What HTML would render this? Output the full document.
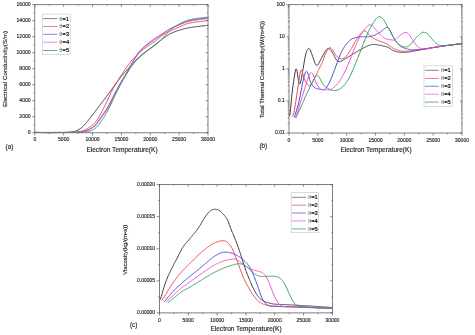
<!DOCTYPE html>
<html><head><meta charset="utf-8"><title>Figure</title>
<style>
html,body{margin:0;padding:0;background:#fff;}
body{width:475px;height:335px;overflow:hidden;}
svg{display:block;font-family:"Liberation Sans",sans-serif;}
</style></head><body>
<svg width="475" height="335" viewBox="0 0 475 335">
<defs><filter id="soft" x="0" y="0" width="475" height="335" filterUnits="userSpaceOnUse"><feGaussianBlur stdDeviation="0.38"/></filter></defs>
<rect x="0" y="0" width="475" height="335" fill="#ffffff"/>
<g filter="url(#soft)">
<rect x="34.8" y="4.7" width="173.2" height="128.10000000000002" fill="none" stroke="#555555" stroke-width="0.75"/>
<line x1="34.80" y1="132.80" x2="34.80" y2="135.40" stroke="#555555" stroke-width="0.7"/>
<line x1="34.80" y1="4.70" x2="34.80" y2="6.78" stroke="#555555" stroke-width="0.7"/>
<text x="34.80" y="141.40" font-size="5.05" text-anchor="middle" fill="#2a2a2a" stroke="#2a2a2a" stroke-width="0.16" >0</text>
<line x1="49.23" y1="132.80" x2="49.23" y2="134.10" stroke="#555555" stroke-width="0.7"/>
<line x1="49.23" y1="4.70" x2="49.23" y2="5.74" stroke="#555555" stroke-width="0.7"/>
<line x1="63.67" y1="132.80" x2="63.67" y2="135.40" stroke="#555555" stroke-width="0.7"/>
<line x1="63.67" y1="4.70" x2="63.67" y2="6.78" stroke="#555555" stroke-width="0.7"/>
<text x="63.67" y="141.40" font-size="5.05" text-anchor="middle" fill="#2a2a2a" stroke="#2a2a2a" stroke-width="0.16" >5000</text>
<line x1="78.10" y1="132.80" x2="78.10" y2="134.10" stroke="#555555" stroke-width="0.7"/>
<line x1="78.10" y1="4.70" x2="78.10" y2="5.74" stroke="#555555" stroke-width="0.7"/>
<line x1="92.53" y1="132.80" x2="92.53" y2="135.40" stroke="#555555" stroke-width="0.7"/>
<line x1="92.53" y1="4.70" x2="92.53" y2="6.78" stroke="#555555" stroke-width="0.7"/>
<text x="92.53" y="141.40" font-size="5.05" text-anchor="middle" fill="#2a2a2a" stroke="#2a2a2a" stroke-width="0.16" >10000</text>
<line x1="106.97" y1="132.80" x2="106.97" y2="134.10" stroke="#555555" stroke-width="0.7"/>
<line x1="106.97" y1="4.70" x2="106.97" y2="5.74" stroke="#555555" stroke-width="0.7"/>
<line x1="121.40" y1="132.80" x2="121.40" y2="135.40" stroke="#555555" stroke-width="0.7"/>
<line x1="121.40" y1="4.70" x2="121.40" y2="6.78" stroke="#555555" stroke-width="0.7"/>
<text x="121.40" y="141.40" font-size="5.05" text-anchor="middle" fill="#2a2a2a" stroke="#2a2a2a" stroke-width="0.16" >15000</text>
<line x1="135.83" y1="132.80" x2="135.83" y2="134.10" stroke="#555555" stroke-width="0.7"/>
<line x1="135.83" y1="4.70" x2="135.83" y2="5.74" stroke="#555555" stroke-width="0.7"/>
<line x1="150.27" y1="132.80" x2="150.27" y2="135.40" stroke="#555555" stroke-width="0.7"/>
<line x1="150.27" y1="4.70" x2="150.27" y2="6.78" stroke="#555555" stroke-width="0.7"/>
<text x="150.27" y="141.40" font-size="5.05" text-anchor="middle" fill="#2a2a2a" stroke="#2a2a2a" stroke-width="0.16" >20000</text>
<line x1="164.70" y1="132.80" x2="164.70" y2="134.10" stroke="#555555" stroke-width="0.7"/>
<line x1="164.70" y1="4.70" x2="164.70" y2="5.74" stroke="#555555" stroke-width="0.7"/>
<line x1="179.13" y1="132.80" x2="179.13" y2="135.40" stroke="#555555" stroke-width="0.7"/>
<line x1="179.13" y1="4.70" x2="179.13" y2="6.78" stroke="#555555" stroke-width="0.7"/>
<text x="179.13" y="141.40" font-size="5.05" text-anchor="middle" fill="#2a2a2a" stroke="#2a2a2a" stroke-width="0.16" >25000</text>
<line x1="193.57" y1="132.80" x2="193.57" y2="134.10" stroke="#555555" stroke-width="0.7"/>
<line x1="193.57" y1="4.70" x2="193.57" y2="5.74" stroke="#555555" stroke-width="0.7"/>
<line x1="208.00" y1="132.80" x2="208.00" y2="135.40" stroke="#555555" stroke-width="0.7"/>
<line x1="208.00" y1="4.70" x2="208.00" y2="6.78" stroke="#555555" stroke-width="0.7"/>
<text x="208.00" y="141.40" font-size="5.05" text-anchor="middle" fill="#2a2a2a" stroke="#2a2a2a" stroke-width="0.16" >30000</text>
<line x1="32.20" y1="132.80" x2="34.80" y2="132.80" stroke="#555555" stroke-width="0.7"/>
<line x1="205.92" y1="132.80" x2="208.00" y2="132.80" stroke="#555555" stroke-width="0.7"/>
<text x="30.60" y="134.20" font-size="5.05" text-anchor="end" fill="#2a2a2a" stroke="#2a2a2a" stroke-width="0.16" >0</text>
<line x1="33.50" y1="124.79" x2="34.80" y2="124.79" stroke="#555555" stroke-width="0.7"/>
<line x1="206.96" y1="124.79" x2="208.00" y2="124.79" stroke="#555555" stroke-width="0.7"/>
<line x1="32.20" y1="116.79" x2="34.80" y2="116.79" stroke="#555555" stroke-width="0.7"/>
<line x1="205.92" y1="116.79" x2="208.00" y2="116.79" stroke="#555555" stroke-width="0.7"/>
<text x="30.60" y="118.19" font-size="5.05" text-anchor="end" fill="#2a2a2a" stroke="#2a2a2a" stroke-width="0.16" >2000</text>
<line x1="33.50" y1="108.78" x2="34.80" y2="108.78" stroke="#555555" stroke-width="0.7"/>
<line x1="206.96" y1="108.78" x2="208.00" y2="108.78" stroke="#555555" stroke-width="0.7"/>
<line x1="32.20" y1="100.78" x2="34.80" y2="100.78" stroke="#555555" stroke-width="0.7"/>
<line x1="205.92" y1="100.78" x2="208.00" y2="100.78" stroke="#555555" stroke-width="0.7"/>
<text x="30.60" y="102.18" font-size="5.05" text-anchor="end" fill="#2a2a2a" stroke="#2a2a2a" stroke-width="0.16" >4000</text>
<line x1="33.50" y1="92.77" x2="34.80" y2="92.77" stroke="#555555" stroke-width="0.7"/>
<line x1="206.96" y1="92.77" x2="208.00" y2="92.77" stroke="#555555" stroke-width="0.7"/>
<line x1="32.20" y1="84.76" x2="34.80" y2="84.76" stroke="#555555" stroke-width="0.7"/>
<line x1="205.92" y1="84.76" x2="208.00" y2="84.76" stroke="#555555" stroke-width="0.7"/>
<text x="30.60" y="86.16" font-size="5.05" text-anchor="end" fill="#2a2a2a" stroke="#2a2a2a" stroke-width="0.16" >6000</text>
<line x1="33.50" y1="76.76" x2="34.80" y2="76.76" stroke="#555555" stroke-width="0.7"/>
<line x1="206.96" y1="76.76" x2="208.00" y2="76.76" stroke="#555555" stroke-width="0.7"/>
<line x1="32.20" y1="68.75" x2="34.80" y2="68.75" stroke="#555555" stroke-width="0.7"/>
<line x1="205.92" y1="68.75" x2="208.00" y2="68.75" stroke="#555555" stroke-width="0.7"/>
<text x="30.60" y="70.15" font-size="5.05" text-anchor="end" fill="#2a2a2a" stroke="#2a2a2a" stroke-width="0.16" >8000</text>
<line x1="33.50" y1="60.74" x2="34.80" y2="60.74" stroke="#555555" stroke-width="0.7"/>
<line x1="206.96" y1="60.74" x2="208.00" y2="60.74" stroke="#555555" stroke-width="0.7"/>
<line x1="32.20" y1="52.74" x2="34.80" y2="52.74" stroke="#555555" stroke-width="0.7"/>
<line x1="205.92" y1="52.74" x2="208.00" y2="52.74" stroke="#555555" stroke-width="0.7"/>
<text x="30.60" y="54.14" font-size="5.05" text-anchor="end" fill="#2a2a2a" stroke="#2a2a2a" stroke-width="0.16" >10000</text>
<line x1="33.50" y1="44.73" x2="34.80" y2="44.73" stroke="#555555" stroke-width="0.7"/>
<line x1="206.96" y1="44.73" x2="208.00" y2="44.73" stroke="#555555" stroke-width="0.7"/>
<line x1="32.20" y1="36.72" x2="34.80" y2="36.72" stroke="#555555" stroke-width="0.7"/>
<line x1="205.92" y1="36.72" x2="208.00" y2="36.72" stroke="#555555" stroke-width="0.7"/>
<text x="30.60" y="38.12" font-size="5.05" text-anchor="end" fill="#2a2a2a" stroke="#2a2a2a" stroke-width="0.16" >12000</text>
<line x1="33.50" y1="28.72" x2="34.80" y2="28.72" stroke="#555555" stroke-width="0.7"/>
<line x1="206.96" y1="28.72" x2="208.00" y2="28.72" stroke="#555555" stroke-width="0.7"/>
<line x1="32.20" y1="20.71" x2="34.80" y2="20.71" stroke="#555555" stroke-width="0.7"/>
<line x1="205.92" y1="20.71" x2="208.00" y2="20.71" stroke="#555555" stroke-width="0.7"/>
<text x="30.60" y="22.11" font-size="5.05" text-anchor="end" fill="#2a2a2a" stroke="#2a2a2a" stroke-width="0.16" >14000</text>
<line x1="33.50" y1="12.71" x2="34.80" y2="12.71" stroke="#555555" stroke-width="0.7"/>
<line x1="206.96" y1="12.71" x2="208.00" y2="12.71" stroke="#555555" stroke-width="0.7"/>
<line x1="32.20" y1="4.70" x2="34.80" y2="4.70" stroke="#555555" stroke-width="0.7"/>
<line x1="205.92" y1="4.70" x2="208.00" y2="4.70" stroke="#555555" stroke-width="0.7"/>
<text x="30.60" y="6.10" font-size="5.05" text-anchor="end" fill="#2a2a2a" stroke="#2a2a2a" stroke-width="0.16" >16000</text>
<text x="0.00" y="0.00" font-size="6.23" text-anchor="middle" fill="#2a2a2a" stroke="#2a2a2a" stroke-width="0.16" transform="translate(6.6,69.0) rotate(-90)">Electrical Conductivity(S/m)</text>
<text x="122.00" y="151.80" font-size="6.55" text-anchor="middle" fill="#2a2a2a" stroke="#2a2a2a" stroke-width="0.16" >Electron Temperature(K)</text>
<text x="5.60" y="148.90" font-size="6.4" text-anchor="start" fill="#2a2a2a" stroke="#2a2a2a" stroke-width="0.16" >(a)</text>
<path d="M35.00 132.41 L35.50 132.41 L36.00 132.41 L36.50 132.41 L37.00 132.42 L37.50 132.42 L38.00 132.42 L38.50 132.43 L39.00 132.43 L39.50 132.43 L40.00 132.43 L40.50 132.43 L41.00 132.44 L41.50 132.44 L42.00 132.44 L42.50 132.44 L43.00 132.44 L43.50 132.44 L44.00 132.44 L44.50 132.44 L45.00 132.44 L45.50 132.44 L46.00 132.44 L46.50 132.44 L47.00 132.44 L47.50 132.44 L48.00 132.44 L48.50 132.44 L49.00 132.44 L49.50 132.43 L50.00 132.43 L50.50 132.43 L51.00 132.43 L51.50 132.43 L52.00 132.43 L52.50 132.43 L53.00 132.42 L53.50 132.42 L54.00 132.42 L54.50 132.42 L55.00 132.42 L55.50 132.42 L56.00 132.41 L56.50 132.41 L57.00 132.41 L57.50 132.41 L58.00 132.41 L58.50 132.40 L59.00 132.40 L59.50 132.40 L60.00 132.40 L60.50 132.39 L61.00 132.39 L61.50 132.38 L62.00 132.38 L62.50 132.37 L63.00 132.36 L63.50 132.36 L64.00 132.35 L64.50 132.34 L65.00 132.33 L65.50 132.31 L66.00 132.30 L66.50 132.29 L67.00 132.28 L67.50 132.26 L68.00 132.24 L68.50 132.22 L69.00 132.20 L69.50 132.17 L70.00 132.14 L70.50 132.10 L71.00 132.05 L71.50 132.00 L72.00 131.93 L72.50 131.86 L73.00 131.77 L73.50 131.67 L74.00 131.55 L74.50 131.42 L75.00 131.27 L75.50 131.11 L76.00 130.93 L76.50 130.73 L77.00 130.52 L77.50 130.28 L78.00 130.03 L78.50 129.75 L79.00 129.46 L79.50 129.15 L80.00 128.82 L80.50 128.46 L81.00 128.09 L81.50 127.68 L82.00 127.26 L82.50 126.81 L83.00 126.34 L83.50 125.84 L84.00 125.32 L84.50 124.79 L85.00 124.23 L85.50 123.66 L86.00 123.08 L86.50 122.49 L87.00 121.88 L87.50 121.27 L88.00 120.66 L88.50 120.03 L89.00 119.40 L89.50 118.77 L90.00 118.13 L90.50 117.49 L91.00 116.85 L91.50 116.20 L92.00 115.55 L92.50 114.91 L93.00 114.25 L93.50 113.60 L94.00 112.95 L94.50 112.30 L95.00 111.64 L95.50 110.98 L96.00 110.33 L96.50 109.67 L97.00 109.01 L97.50 108.35 L98.00 107.69 L98.50 107.03 L99.00 106.37 L99.50 105.70 L100.00 105.04 L100.50 104.38 L101.00 103.71 L101.50 103.05 L102.00 102.39 L102.50 101.72 L103.00 101.06 L103.50 100.39 L104.00 99.73 L104.50 99.06 L105.00 98.40 L105.50 97.73 L106.00 97.06 L106.50 96.39 L107.00 95.72 L107.50 95.05 L108.00 94.38 L108.50 93.71 L109.00 93.03 L109.50 92.36 L110.00 91.68 L110.50 90.99 L111.00 90.31 L111.50 89.62 L112.00 88.94 L112.50 88.25 L113.00 87.56 L113.50 86.87 L114.00 86.18 L114.50 85.49 L115.00 84.81 L115.50 84.12 L116.00 83.43 L116.50 82.75 L117.00 82.07 L117.50 81.39 L118.00 80.72 L118.50 80.05 L119.00 79.38 L119.50 78.73 L120.00 78.07 L120.50 77.43 L121.00 76.80 L121.50 76.17 L122.00 75.56 L122.50 74.95 L123.00 74.35 L123.50 73.77 L124.00 73.19 L124.50 72.62 L125.00 72.05 L125.50 71.50 L126.00 70.94 L126.50 70.40 L127.00 69.85 L127.50 69.31 L128.00 68.77 L128.50 68.24 L129.00 67.70 L129.50 67.16 L130.00 66.62 L130.50 66.08 L131.00 65.54 L131.50 65.00 L132.00 64.45 L132.50 63.90 L133.00 63.34 L133.50 62.79 L134.00 62.23 L134.50 61.68 L135.00 61.13 L135.50 60.59 L136.00 60.05 L136.50 59.53 L137.00 59.01 L137.50 58.51 L138.00 58.02 L138.50 57.55 L139.00 57.08 L139.50 56.63 L140.00 56.19 L140.50 55.76 L141.00 55.34 L141.50 54.93 L142.00 54.53 L142.50 54.13 L143.00 53.74 L143.50 53.35 L144.00 52.97 L144.50 52.59 L145.00 52.21 L145.50 51.84 L146.00 51.46 L146.50 51.09 L147.00 50.72 L147.50 50.35 L148.00 49.99 L148.50 49.62 L149.00 49.26 L149.50 48.89 L150.00 48.53 L150.50 48.16 L151.00 47.80 L151.50 47.43 L152.00 47.06 L152.50 46.70 L153.00 46.33 L153.50 45.95 L154.00 45.58 L154.50 45.20 L155.00 44.82 L155.50 44.44 L156.00 44.06 L156.50 43.67 L157.00 43.28 L157.50 42.89 L158.00 42.50 L158.50 42.10 L159.00 41.71 L159.50 41.31 L160.00 40.91 L160.50 40.52 L161.00 40.13 L161.50 39.73 L162.00 39.34 L162.50 38.95 L163.00 38.57 L163.50 38.19 L164.00 37.81 L164.50 37.44 L165.00 37.08 L165.50 36.72 L166.00 36.37 L166.50 36.03 L167.00 35.69 L167.50 35.37 L168.00 35.05 L168.50 34.74 L169.00 34.45 L169.50 34.16 L170.00 33.89 L170.50 33.62 L171.00 33.37 L171.50 33.12 L172.00 32.89 L172.50 32.66 L173.00 32.45 L173.50 32.24 L174.00 32.04 L174.50 31.84 L175.00 31.65 L175.50 31.47 L176.00 31.29 L176.50 31.12 L177.00 30.95 L177.50 30.79 L178.00 30.63 L178.50 30.47 L179.00 30.32 L179.50 30.17 L180.00 30.02 L180.50 29.87 L181.00 29.73 L181.50 29.58 L182.00 29.45 L182.50 29.31 L183.00 29.18 L183.50 29.05 L184.00 28.92 L184.50 28.80 L185.00 28.67 L185.50 28.55 L186.00 28.44 L186.50 28.32 L187.00 28.21 L187.50 28.10 L188.00 28.00 L188.50 27.89 L189.00 27.80 L189.50 27.70 L190.00 27.61 L190.50 27.53 L191.00 27.44 L191.50 27.36 L192.00 27.29 L192.50 27.21 L193.00 27.14 L193.50 27.07 L194.00 27.00 L194.50 26.93 L195.00 26.86 L195.50 26.79 L196.00 26.72 L196.50 26.66 L197.00 26.59 L197.50 26.53 L198.00 26.46 L198.50 26.39 L199.00 26.33 L199.50 26.27 L200.00 26.20 L200.50 26.14 L201.00 26.07 L201.50 26.01 L202.00 25.95 L202.50 25.88 L203.00 25.82 L203.50 25.76 L204.00 25.70 L204.50 25.64 L205.00 25.58 L205.50 25.52 L206.00 25.47 L206.50 25.42 L207.00 25.37 L207.50 25.33 L208.00 25.30" fill="none" stroke="#3a3a3a" stroke-width="1.0" stroke-linejoin="round" stroke-linecap="round"/>
<path d="M35.00 132.42 L35.50 132.43 L36.00 132.44 L36.50 132.45 L37.00 132.46 L37.50 132.47 L38.00 132.48 L38.50 132.49 L39.00 132.50 L39.50 132.51 L40.00 132.52 L40.50 132.53 L41.00 132.54 L41.50 132.55 L42.00 132.56 L42.50 132.56 L43.00 132.57 L43.50 132.58 L44.00 132.58 L44.50 132.59 L45.00 132.59 L45.50 132.59 L46.00 132.60 L46.50 132.60 L47.00 132.60 L47.50 132.60 L48.00 132.61 L48.50 132.61 L49.00 132.61 L49.50 132.61 L50.00 132.61 L50.50 132.61 L51.00 132.60 L51.50 132.60 L52.00 132.60 L52.50 132.60 L53.00 132.60 L53.50 132.59 L54.00 132.59 L54.50 132.59 L55.00 132.58 L55.50 132.58 L56.00 132.57 L56.50 132.57 L57.00 132.57 L57.50 132.56 L58.00 132.56 L58.50 132.55 L59.00 132.54 L59.50 132.54 L60.00 132.53 L60.50 132.53 L61.00 132.52 L61.50 132.51 L62.00 132.51 L62.50 132.50 L63.00 132.49 L63.50 132.49 L64.00 132.48 L64.50 132.47 L65.00 132.47 L65.50 132.46 L66.00 132.45 L66.50 132.45 L67.00 132.44 L67.50 132.43 L68.00 132.43 L68.50 132.42 L69.00 132.41 L69.50 132.40 L70.00 132.39 L70.50 132.38 L71.00 132.36 L71.50 132.35 L72.00 132.33 L72.50 132.31 L73.00 132.28 L73.50 132.26 L74.00 132.23 L74.50 132.20 L75.00 132.16 L75.50 132.12 L76.00 132.08 L76.50 132.04 L77.00 131.99 L77.50 131.93 L78.00 131.87 L78.50 131.81 L79.00 131.73 L79.50 131.65 L80.00 131.55 L80.50 131.45 L81.00 131.32 L81.50 131.19 L82.00 131.04 L82.50 130.88 L83.00 130.71 L83.50 130.52 L84.00 130.32 L84.50 130.11 L85.00 129.88 L85.50 129.64 L86.00 129.39 L86.50 129.13 L87.00 128.85 L87.50 128.56 L88.00 128.26 L88.50 127.95 L89.00 127.63 L89.50 127.29 L90.00 126.95 L90.50 126.59 L91.00 126.22 L91.50 125.84 L92.00 125.45 L92.50 125.04 L93.00 124.60 L93.50 124.15 L94.00 123.67 L94.50 123.16 L95.00 122.61 L95.50 122.04 L96.00 121.42 L96.50 120.77 L97.00 120.08 L97.50 119.36 L98.00 118.59 L98.50 117.79 L99.00 116.96 L99.50 116.09 L100.00 115.20 L100.50 114.28 L101.00 113.34 L101.50 112.39 L102.00 111.41 L102.50 110.42 L103.00 109.43 L103.50 108.42 L104.00 107.41 L104.50 106.39 L105.00 105.36 L105.50 104.33 L106.00 103.29 L106.50 102.25 L107.00 101.20 L107.50 100.15 L108.00 99.09 L108.50 98.03 L109.00 96.96 L109.50 95.89 L110.00 94.83 L110.50 93.78 L111.00 92.74 L111.50 91.72 L112.00 90.72 L112.50 89.73 L113.00 88.78 L113.50 87.84 L114.00 86.93 L114.50 86.04 L115.00 85.17 L115.50 84.32 L116.00 83.49 L116.50 82.67 L117.00 81.86 L117.50 81.06 L118.00 80.27 L118.50 79.48 L119.00 78.70 L119.50 77.92 L120.00 77.14 L120.50 76.37 L121.00 75.60 L121.50 74.83 L122.00 74.06 L122.50 73.30 L123.00 72.54 L123.50 71.79 L124.00 71.04 L124.50 70.29 L125.00 69.55 L125.50 68.82 L126.00 68.09 L126.50 67.38 L127.00 66.67 L127.50 65.97 L128.00 65.28 L128.50 64.60 L129.00 63.94 L129.50 63.28 L130.00 62.64 L130.50 62.00 L131.00 61.38 L131.50 60.78 L132.00 60.18 L132.50 59.59 L133.00 59.02 L133.50 58.46 L134.00 57.91 L134.50 57.37 L135.00 56.84 L135.50 56.32 L136.00 55.81 L136.50 55.31 L137.00 54.82 L137.50 54.34 L138.00 53.87 L138.50 53.41 L139.00 52.95 L139.50 52.51 L140.00 52.07 L140.50 51.65 L141.00 51.23 L141.50 50.82 L142.00 50.41 L142.50 50.02 L143.00 49.63 L143.50 49.25 L144.00 48.87 L144.50 48.50 L145.00 48.14 L145.50 47.78 L146.00 47.42 L146.50 47.07 L147.00 46.72 L147.50 46.37 L148.00 46.02 L148.50 45.68 L149.00 45.33 L149.50 44.99 L150.00 44.65 L150.50 44.31 L151.00 43.96 L151.50 43.62 L152.00 43.27 L152.50 42.93 L153.00 42.58 L153.50 42.22 L154.00 41.87 L154.50 41.51 L155.00 41.15 L155.50 40.78 L156.00 40.41 L156.50 40.03 L157.00 39.65 L157.50 39.27 L158.00 38.88 L158.50 38.49 L159.00 38.10 L159.50 37.71 L160.00 37.32 L160.50 36.93 L161.00 36.55 L161.50 36.17 L162.00 35.80 L162.50 35.43 L163.00 35.07 L163.50 34.72 L164.00 34.38 L164.50 34.05 L165.00 33.73 L165.50 33.42 L166.00 33.12 L166.50 32.83 L167.00 32.55 L167.50 32.28 L168.00 32.02 L168.50 31.76 L169.00 31.51 L169.50 31.27 L170.00 31.04 L170.50 30.81 L171.00 30.58 L171.50 30.36 L172.00 30.14 L172.50 29.92 L173.00 29.70 L173.50 29.49 L174.00 29.27 L174.50 29.05 L175.00 28.84 L175.50 28.62 L176.00 28.40 L176.50 28.18 L177.00 27.96 L177.50 27.74 L178.00 27.52 L178.50 27.29 L179.00 27.07 L179.50 26.84 L180.00 26.61 L180.50 26.39 L181.00 26.16 L181.50 25.93 L182.00 25.71 L182.50 25.49 L183.00 25.28 L183.50 25.07 L184.00 24.86 L184.50 24.66 L185.00 24.47 L185.50 24.29 L186.00 24.12 L186.50 23.95 L187.00 23.80 L187.50 23.65 L188.00 23.52 L188.50 23.39 L189.00 23.27 L189.50 23.15 L190.00 23.05 L190.50 22.95 L191.00 22.85 L191.50 22.76 L192.00 22.67 L192.50 22.58 L193.00 22.50 L193.50 22.42 L194.00 22.34 L194.50 22.26 L195.00 22.19 L195.50 22.11 L196.00 22.04 L196.50 21.97 L197.00 21.90 L197.50 21.83 L198.00 21.76 L198.50 21.70 L199.00 21.63 L199.50 21.57 L200.00 21.51 L200.50 21.45 L201.00 21.38 L201.50 21.32 L202.00 21.26 L202.50 21.21 L203.00 21.15 L203.50 21.09 L204.00 21.03 L204.50 20.98 L205.00 20.93 L205.50 20.88 L206.00 20.83 L206.50 20.78 L207.00 20.75 L207.50 20.71 L208.00 20.68" fill="none" stroke="#e8484c" stroke-width="1.0" stroke-linejoin="round" stroke-linecap="round"/>
<path d="M35.00 132.42 L35.50 132.43 L36.00 132.43 L36.50 132.44 L37.00 132.45 L37.50 132.46 L38.00 132.47 L38.50 132.48 L39.00 132.49 L39.50 132.50 L40.00 132.51 L40.50 132.51 L41.00 132.52 L41.50 132.53 L42.00 132.54 L42.50 132.54 L43.00 132.55 L43.50 132.55 L44.00 132.56 L44.50 132.56 L45.00 132.57 L45.50 132.57 L46.00 132.57 L46.50 132.58 L47.00 132.58 L47.50 132.58 L48.00 132.58 L48.50 132.58 L49.00 132.58 L49.50 132.59 L50.00 132.59 L50.50 132.59 L51.00 132.59 L51.50 132.58 L52.00 132.58 L52.50 132.58 L53.00 132.58 L53.50 132.58 L54.00 132.58 L54.50 132.57 L55.00 132.57 L55.50 132.57 L56.00 132.57 L56.50 132.56 L57.00 132.56 L57.50 132.56 L58.00 132.55 L58.50 132.55 L59.00 132.54 L59.50 132.54 L60.00 132.53 L60.50 132.53 L61.00 132.52 L61.50 132.52 L62.00 132.51 L62.50 132.51 L63.00 132.50 L63.50 132.50 L64.00 132.49 L64.50 132.49 L65.00 132.48 L65.50 132.48 L66.00 132.47 L66.50 132.46 L67.00 132.46 L67.50 132.45 L68.00 132.45 L68.50 132.44 L69.00 132.43 L69.50 132.43 L70.00 132.42 L70.50 132.41 L71.00 132.41 L71.50 132.40 L72.00 132.39 L72.50 132.38 L73.00 132.37 L73.50 132.35 L74.00 132.34 L74.50 132.32 L75.00 132.30 L75.50 132.27 L76.00 132.25 L76.50 132.22 L77.00 132.19 L77.50 132.16 L78.00 132.13 L78.50 132.09 L79.00 132.05 L79.50 132.00 L80.00 131.95 L80.50 131.90 L81.00 131.83 L81.50 131.76 L82.00 131.68 L82.50 131.59 L83.00 131.49 L83.50 131.38 L84.00 131.26 L84.50 131.13 L85.00 130.98 L85.50 130.83 L86.00 130.66 L86.50 130.49 L87.00 130.30 L87.50 130.10 L88.00 129.89 L88.50 129.66 L89.00 129.43 L89.50 129.17 L90.00 128.91 L90.50 128.63 L91.00 128.33 L91.50 128.02 L92.00 127.68 L92.50 127.33 L93.00 126.96 L93.50 126.55 L94.00 126.12 L94.50 125.65 L95.00 125.15 L95.50 124.62 L96.00 124.05 L96.50 123.45 L97.00 122.82 L97.50 122.17 L98.00 121.50 L98.50 120.81 L99.00 120.11 L99.50 119.40 L100.00 118.68 L100.50 117.96 L101.00 117.23 L101.50 116.51 L102.00 115.78 L102.50 115.05 L103.00 114.32 L103.50 113.59 L104.00 112.85 L104.50 112.11 L105.00 111.36 L105.50 110.60 L106.00 109.84 L106.50 109.06 L107.00 108.26 L107.50 107.45 L108.00 106.61 L108.50 105.75 L109.00 104.86 L109.50 103.95 L110.00 103.01 L110.50 102.06 L111.00 101.08 L111.50 100.09 L112.00 99.09 L112.50 98.09 L113.00 97.09 L113.50 96.09 L114.00 95.10 L114.50 94.12 L115.00 93.15 L115.50 92.19 L116.00 91.25 L116.50 90.31 L117.00 89.37 L117.50 88.45 L118.00 87.54 L118.50 86.63 L119.00 85.73 L119.50 84.83 L120.00 83.95 L120.50 83.07 L121.00 82.21 L121.50 81.35 L122.00 80.49 L122.50 79.65 L123.00 78.81 L123.50 77.97 L124.00 77.13 L124.50 76.30 L125.00 75.46 L125.50 74.62 L126.00 73.78 L126.50 72.93 L127.00 72.07 L127.50 71.20 L128.00 70.33 L128.50 69.46 L129.00 68.58 L129.50 67.69 L130.00 66.81 L130.50 65.93 L131.00 65.05 L131.50 64.18 L132.00 63.31 L132.50 62.45 L133.00 61.61 L133.50 60.78 L134.00 59.96 L134.50 59.15 L135.00 58.36 L135.50 57.59 L136.00 56.84 L136.50 56.10 L137.00 55.38 L137.50 54.68 L138.00 53.99 L138.50 53.33 L139.00 52.69 L139.50 52.07 L140.00 51.47 L140.50 50.89 L141.00 50.34 L141.50 49.80 L142.00 49.29 L142.50 48.80 L143.00 48.32 L143.50 47.87 L144.00 47.43 L144.50 47.00 L145.00 46.58 L145.50 46.18 L146.00 45.78 L146.50 45.39 L147.00 45.00 L147.50 44.62 L148.00 44.24 L148.50 43.86 L149.00 43.48 L149.50 43.11 L150.00 42.74 L150.50 42.37 L151.00 42.01 L151.50 41.65 L152.00 41.28 L152.50 40.93 L153.00 40.57 L153.50 40.22 L154.00 39.86 L154.50 39.51 L155.00 39.16 L155.50 38.82 L156.00 38.47 L156.50 38.13 L157.00 37.78 L157.50 37.44 L158.00 37.09 L158.50 36.75 L159.00 36.41 L159.50 36.07 L160.00 35.72 L160.50 35.38 L161.00 35.04 L161.50 34.70 L162.00 34.36 L162.50 34.02 L163.00 33.67 L163.50 33.33 L164.00 32.99 L164.50 32.64 L165.00 32.30 L165.50 31.96 L166.00 31.62 L166.50 31.28 L167.00 30.95 L167.50 30.62 L168.00 30.30 L168.50 29.98 L169.00 29.67 L169.50 29.37 L170.00 29.08 L170.50 28.80 L171.00 28.53 L171.50 28.26 L172.00 28.00 L172.50 27.75 L173.00 27.51 L173.50 27.27 L174.00 27.04 L174.50 26.81 L175.00 26.58 L175.50 26.35 L176.00 26.12 L176.50 25.90 L177.00 25.67 L177.50 25.44 L178.00 25.22 L178.50 24.99 L179.00 24.76 L179.50 24.53 L180.00 24.31 L180.50 24.08 L181.00 23.85 L181.50 23.63 L182.00 23.41 L182.50 23.18 L183.00 22.97 L183.50 22.75 L184.00 22.54 L184.50 22.34 L185.00 22.14 L185.50 21.95 L186.00 21.77 L186.50 21.59 L187.00 21.43 L187.50 21.27 L188.00 21.11 L188.50 20.97 L189.00 20.83 L189.50 20.71 L190.00 20.59 L190.50 20.47 L191.00 20.36 L191.50 20.26 L192.00 20.16 L192.50 20.06 L193.00 19.97 L193.50 19.88 L194.00 19.79 L194.50 19.71 L195.00 19.63 L195.50 19.55 L196.00 19.47 L196.50 19.39 L197.00 19.32 L197.50 19.25 L198.00 19.17 L198.50 19.11 L199.00 19.04 L199.50 18.97 L200.00 18.91 L200.50 18.84 L201.00 18.78 L201.50 18.72 L202.00 18.66 L202.50 18.60 L203.00 18.54 L203.50 18.48 L204.00 18.43 L204.50 18.37 L205.00 18.32 L205.50 18.27 L206.00 18.22 L206.50 18.18 L207.00 18.14 L207.50 18.11 L208.00 18.08" fill="none" stroke="#4646d8" stroke-width="1.0" stroke-linejoin="round" stroke-linecap="round"/>
<path d="M35.00 132.42 L35.50 132.43 L36.00 132.43 L36.50 132.44 L37.00 132.45 L37.50 132.46 L38.00 132.47 L38.50 132.48 L39.00 132.49 L39.50 132.50 L40.00 132.51 L40.50 132.52 L41.00 132.52 L41.50 132.53 L42.00 132.54 L42.50 132.54 L43.00 132.55 L43.50 132.56 L44.00 132.56 L44.50 132.57 L45.00 132.57 L45.50 132.57 L46.00 132.58 L46.50 132.58 L47.00 132.58 L47.50 132.59 L48.00 132.59 L48.50 132.59 L49.00 132.59 L49.50 132.59 L50.00 132.59 L50.50 132.59 L51.00 132.59 L51.50 132.59 L52.00 132.59 L52.50 132.59 L53.00 132.59 L53.50 132.59 L54.00 132.59 L54.50 132.58 L55.00 132.58 L55.50 132.58 L56.00 132.58 L56.50 132.57 L57.00 132.57 L57.50 132.57 L58.00 132.56 L58.50 132.56 L59.00 132.55 L59.50 132.55 L60.00 132.55 L60.50 132.54 L61.00 132.54 L61.50 132.53 L62.00 132.53 L62.50 132.52 L63.00 132.52 L63.50 132.51 L64.00 132.51 L64.50 132.50 L65.00 132.50 L65.50 132.49 L66.00 132.48 L66.50 132.48 L67.00 132.47 L67.50 132.47 L68.00 132.46 L68.50 132.45 L69.00 132.45 L69.50 132.44 L70.00 132.44 L70.50 132.43 L71.00 132.42 L71.50 132.42 L72.00 132.41 L72.50 132.40 L73.00 132.39 L73.50 132.38 L74.00 132.37 L74.50 132.35 L75.00 132.33 L75.50 132.32 L76.00 132.29 L76.50 132.27 L77.00 132.25 L77.50 132.22 L78.00 132.19 L78.50 132.16 L79.00 132.12 L79.50 132.09 L80.00 132.04 L80.50 132.00 L81.00 131.95 L81.50 131.90 L82.00 131.83 L82.50 131.77 L83.00 131.69 L83.50 131.60 L84.00 131.50 L84.50 131.39 L85.00 131.27 L85.50 131.14 L86.00 130.99 L86.50 130.83 L87.00 130.67 L87.50 130.48 L88.00 130.29 L88.50 130.08 L89.00 129.86 L89.50 129.62 L90.00 129.37 L90.50 129.11 L91.00 128.83 L91.50 128.53 L92.00 128.23 L92.50 127.90 L93.00 127.55 L93.50 127.17 L94.00 126.77 L94.50 126.34 L95.00 125.87 L95.50 125.36 L96.00 124.82 L96.50 124.24 L97.00 123.64 L97.50 123.01 L98.00 122.35 L98.50 121.69 L99.00 121.00 L99.50 120.31 L100.00 119.62 L100.50 118.92 L101.00 118.22 L101.50 117.51 L102.00 116.81 L102.50 116.10 L103.00 115.40 L103.50 114.70 L104.00 113.99 L104.50 113.28 L105.00 112.56 L105.50 111.84 L106.00 111.11 L106.50 110.37 L107.00 109.61 L107.50 108.84 L108.00 108.04 L108.50 107.22 L109.00 106.37 L109.50 105.50 L110.00 104.59 L110.50 103.66 L111.00 102.70 L111.50 101.72 L112.00 100.73 L112.50 99.72 L113.00 98.72 L113.50 97.71 L114.00 96.72 L114.50 95.73 L115.00 94.75 L115.50 93.79 L116.00 92.84 L116.50 91.89 L117.00 90.96 L117.50 90.03 L118.00 89.11 L118.50 88.20 L119.00 87.29 L119.50 86.38 L120.00 85.48 L120.50 84.59 L121.00 83.70 L121.50 82.83 L122.00 81.96 L122.50 81.09 L123.00 80.23 L123.50 79.38 L124.00 78.53 L124.50 77.67 L125.00 76.81 L125.50 75.94 L126.00 75.05 L126.50 74.15 L127.00 73.22 L127.50 72.27 L128.00 71.29 L128.50 70.28 L129.00 69.26 L129.50 68.21 L130.00 67.16 L130.50 66.11 L131.00 65.07 L131.50 64.03 L132.00 63.02 L132.50 62.04 L133.00 61.09 L133.50 60.16 L134.00 59.27 L134.50 58.41 L135.00 57.58 L135.50 56.78 L136.00 56.00 L136.50 55.25 L137.00 54.52 L137.50 53.82 L138.00 53.13 L138.50 52.47 L139.00 51.83 L139.50 51.22 L140.00 50.62 L140.50 50.05 L141.00 49.50 L141.50 48.97 L142.00 48.47 L142.50 47.98 L143.00 47.51 L143.50 47.05 L144.00 46.61 L144.50 46.18 L145.00 45.77 L145.50 45.36 L146.00 44.95 L146.50 44.55 L147.00 44.16 L147.50 43.77 L148.00 43.38 L148.50 43.00 L149.00 42.62 L149.50 42.24 L150.00 41.86 L150.50 41.49 L151.00 41.13 L151.50 40.77 L152.00 40.41 L152.50 40.05 L153.00 39.70 L153.50 39.36 L154.00 39.02 L154.50 38.68 L155.00 38.35 L155.50 38.02 L156.00 37.69 L156.50 37.37 L157.00 37.05 L157.50 36.73 L158.00 36.41 L158.50 36.09 L159.00 35.78 L159.50 35.46 L160.00 35.14 L160.50 34.83 L161.00 34.51 L161.50 34.19 L162.00 33.88 L162.50 33.56 L163.00 33.24 L163.50 32.92 L164.00 32.61 L164.50 32.29 L165.00 31.97 L165.50 31.65 L166.00 31.33 L166.50 31.02 L167.00 30.70 L167.50 30.39 L168.00 30.08 L168.50 29.77 L169.00 29.47 L169.50 29.17 L170.00 28.88 L170.50 28.61 L171.00 28.34 L171.50 28.08 L172.00 27.83 L172.50 27.60 L173.00 27.37 L173.50 27.15 L174.00 26.94 L174.50 26.74 L175.00 26.53 L175.50 26.34 L176.00 26.14 L176.50 25.94 L177.00 25.74 L177.50 25.54 L178.00 25.34 L178.50 25.13 L179.00 24.93 L179.50 24.72 L180.00 24.52 L180.50 24.32 L181.00 24.11 L181.50 23.91 L182.00 23.71 L182.50 23.51 L183.00 23.32 L183.50 23.13 L184.00 22.94 L184.50 22.76 L185.00 22.58 L185.50 22.41 L186.00 22.25 L186.50 22.09 L187.00 21.94 L187.50 21.79 L188.00 21.65 L188.50 21.52 L189.00 21.40 L189.50 21.28 L190.00 21.16 L190.50 21.06 L191.00 20.95 L191.50 20.85 L192.00 20.75 L192.50 20.66 L193.00 20.57 L193.50 20.48 L194.00 20.40 L194.50 20.31 L195.00 20.23 L195.50 20.15 L196.00 20.07 L196.50 20.00 L197.00 19.92 L197.50 19.85 L198.00 19.78 L198.50 19.71 L199.00 19.64 L199.50 19.57 L200.00 19.51 L200.50 19.44 L201.00 19.38 L201.50 19.32 L202.00 19.26 L202.50 19.20 L203.00 19.14 L203.50 19.08 L204.00 19.03 L204.50 18.97 L205.00 18.92 L205.50 18.87 L206.00 18.82 L206.50 18.78 L207.00 18.74 L207.50 18.71 L208.00 18.68" fill="none" stroke="#f646d6" stroke-width="1.0" stroke-linejoin="round" stroke-linecap="round"/>
<path d="M35.00 132.41 L35.50 132.42 L36.00 132.42 L36.50 132.43 L37.00 132.44 L37.50 132.44 L38.00 132.45 L38.50 132.46 L39.00 132.46 L39.50 132.47 L40.00 132.48 L40.50 132.48 L41.00 132.49 L41.50 132.50 L42.00 132.50 L42.50 132.51 L43.00 132.51 L43.50 132.52 L44.00 132.52 L44.50 132.53 L45.00 132.53 L45.50 132.53 L46.00 132.54 L46.50 132.54 L47.00 132.54 L47.50 132.55 L48.00 132.55 L48.50 132.55 L49.00 132.55 L49.50 132.55 L50.00 132.56 L50.50 132.56 L51.00 132.56 L51.50 132.56 L52.00 132.56 L52.50 132.56 L53.00 132.56 L53.50 132.56 L54.00 132.56 L54.50 132.56 L55.00 132.56 L55.50 132.56 L56.00 132.56 L56.50 132.56 L57.00 132.56 L57.50 132.56 L58.00 132.55 L58.50 132.55 L59.00 132.55 L59.50 132.55 L60.00 132.55 L60.50 132.54 L61.00 132.54 L61.50 132.54 L62.00 132.54 L62.50 132.53 L63.00 132.53 L63.50 132.53 L64.00 132.52 L64.50 132.52 L65.00 132.52 L65.50 132.51 L66.00 132.51 L66.50 132.50 L67.00 132.50 L67.50 132.49 L68.00 132.49 L68.50 132.48 L69.00 132.48 L69.50 132.47 L70.00 132.47 L70.50 132.46 L71.00 132.46 L71.50 132.45 L72.00 132.45 L72.50 132.44 L73.00 132.44 L73.50 132.43 L74.00 132.42 L74.50 132.42 L75.00 132.41 L75.50 132.40 L76.00 132.39 L76.50 132.38 L77.00 132.37 L77.50 132.36 L78.00 132.34 L78.50 132.33 L79.00 132.31 L79.50 132.29 L80.00 132.28 L80.50 132.25 L81.00 132.23 L81.50 132.21 L82.00 132.19 L82.50 132.16 L83.00 132.13 L83.50 132.10 L84.00 132.07 L84.50 132.03 L85.00 131.99 L85.50 131.95 L86.00 131.89 L86.50 131.83 L87.00 131.76 L87.50 131.68 L88.00 131.59 L88.50 131.49 L89.00 131.37 L89.50 131.23 L90.00 131.08 L90.50 130.91 L91.00 130.72 L91.50 130.52 L92.00 130.29 L92.50 130.04 L93.00 129.76 L93.50 129.47 L94.00 129.14 L94.50 128.79 L95.00 128.41 L95.50 127.99 L96.00 127.55 L96.50 127.08 L97.00 126.57 L97.50 126.04 L98.00 125.47 L98.50 124.89 L99.00 124.27 L99.50 123.64 L100.00 122.98 L100.50 122.30 L101.00 121.61 L101.50 120.90 L102.00 120.18 L102.50 119.44 L103.00 118.68 L103.50 117.91 L104.00 117.12 L104.50 116.32 L105.00 115.49 L105.50 114.64 L106.00 113.77 L106.50 112.87 L107.00 111.95 L107.50 111.01 L108.00 110.05 L108.50 109.07 L109.00 108.08 L109.50 107.07 L110.00 106.05 L110.50 105.03 L111.00 104.00 L111.50 102.96 L112.00 101.92 L112.50 100.87 L113.00 99.82 L113.50 98.77 L114.00 97.71 L114.50 96.65 L115.00 95.58 L115.50 94.52 L116.00 93.46 L116.50 92.39 L117.00 91.33 L117.50 90.28 L118.00 89.24 L118.50 88.20 L119.00 87.19 L119.50 86.18 L120.00 85.20 L120.50 84.24 L121.00 83.30 L121.50 82.38 L122.00 81.48 L122.50 80.60 L123.00 79.75 L123.50 78.90 L124.00 78.07 L124.50 77.26 L125.00 76.45 L125.50 75.65 L126.00 74.86 L126.50 74.08 L127.00 73.30 L127.50 72.53 L128.00 71.77 L128.50 71.01 L129.00 70.26 L129.50 69.52 L130.00 68.79 L130.50 68.06 L131.00 67.35 L131.50 66.64 L132.00 65.95 L132.50 65.26 L133.00 64.59 L133.50 63.94 L134.00 63.30 L134.50 62.68 L135.00 62.07 L135.50 61.48 L136.00 60.92 L136.50 60.37 L137.00 59.83 L137.50 59.31 L138.00 58.81 L138.50 58.32 L139.00 57.84 L139.50 57.37 L140.00 56.91 L140.50 56.45 L141.00 56.01 L141.50 55.57 L142.00 55.13 L142.50 54.71 L143.00 54.29 L143.50 53.87 L144.00 53.46 L144.50 53.06 L145.00 52.66 L145.50 52.27 L146.00 51.88 L146.50 51.50 L147.00 51.11 L147.50 50.74 L148.00 50.36 L148.50 49.99 L149.00 49.62 L149.50 49.24 L150.00 48.88 L150.50 48.51 L151.00 48.14 L151.50 47.77 L152.00 47.39 L152.50 47.02 L153.00 46.65 L153.50 46.27 L154.00 45.89 L154.50 45.51 L155.00 45.13 L155.50 44.74 L156.00 44.35 L156.50 43.95 L157.00 43.55 L157.50 43.13 L158.00 42.70 L158.50 42.26 L159.00 41.81 L159.50 41.34 L160.00 40.86 L160.50 40.37 L161.00 39.86 L161.50 39.35 L162.00 38.83 L162.50 38.30 L163.00 37.77 L163.50 37.24 L164.00 36.70 L164.50 36.17 L165.00 35.64 L165.50 35.12 L166.00 34.59 L166.50 34.07 L167.00 33.55 L167.50 33.04 L168.00 32.53 L168.50 32.02 L169.00 31.52 L169.50 31.03 L170.00 30.55 L170.50 30.08 L171.00 29.62 L171.50 29.17 L172.00 28.73 L172.50 28.31 L173.00 27.91 L173.50 27.52 L174.00 27.15 L174.50 26.79 L175.00 26.44 L175.50 26.11 L176.00 25.79 L176.50 25.48 L177.00 25.18 L177.50 24.89 L178.00 24.60 L178.50 24.32 L179.00 24.04 L179.50 23.78 L180.00 23.51 L180.50 23.26 L181.00 23.01 L181.50 22.76 L182.00 22.53 L182.50 22.30 L183.00 22.08 L183.50 21.86 L184.00 21.65 L184.50 21.45 L185.00 21.26 L185.50 21.07 L186.00 20.89 L186.50 20.72 L187.00 20.55 L187.50 20.39 L188.00 20.24 L188.50 20.09 L189.00 19.95 L189.50 19.82 L190.00 19.70 L190.50 19.58 L191.00 19.47 L191.50 19.36 L192.00 19.26 L192.50 19.17 L193.00 19.07 L193.50 18.98 L194.00 18.90 L194.50 18.81 L195.00 18.73 L195.50 18.65 L196.00 18.57 L196.50 18.50 L197.00 18.42 L197.50 18.35 L198.00 18.28 L198.50 18.21 L199.00 18.14 L199.50 18.07 L200.00 18.01 L200.50 17.95 L201.00 17.88 L201.50 17.82 L202.00 17.76 L202.50 17.70 L203.00 17.64 L203.50 17.58 L204.00 17.53 L204.50 17.47 L205.00 17.42 L205.50 17.37 L206.00 17.32 L206.50 17.28 L207.00 17.24 L207.50 17.21 L208.00 17.18" fill="none" stroke="#2aa05a" stroke-width="1.0" stroke-linejoin="round" stroke-linecap="round"/>
<rect x="42.3" y="14.1" width="27.90" height="40.40" fill="#fff" stroke="#c4c4c4" stroke-width="0.6"/>
<line x1="43.10" y1="18.60" x2="57.30" y2="18.60" stroke="#6e6e6e" stroke-width="0.85"/>
<text x="59.30" y="20.55" font-size="5.7" letter-spacing="0.05" text-anchor="start" fill="#111" stroke="#111" stroke-width="0.2"><tspan fill="#5a5a5a" stroke="none">θ</tspan>=1</text>
<line x1="43.10" y1="26.50" x2="57.30" y2="26.50" stroke="#e46a6a" stroke-width="0.85"/>
<text x="59.30" y="28.45" font-size="5.7" letter-spacing="0.05" text-anchor="start" fill="#111" stroke="#111" stroke-width="0.2"><tspan fill="#5a5a5a" stroke="none">θ</tspan>=2</text>
<line x1="43.10" y1="34.30" x2="57.30" y2="34.30" stroke="#6a6ae6" stroke-width="0.85"/>
<text x="59.30" y="36.25" font-size="5.7" letter-spacing="0.05" text-anchor="start" fill="#111" stroke="#111" stroke-width="0.2"><tspan fill="#5a5a5a" stroke="none">θ</tspan>=3</text>
<line x1="43.10" y1="42.20" x2="57.30" y2="42.20" stroke="#ee70dc" stroke-width="0.85"/>
<text x="59.30" y="44.15" font-size="5.7" letter-spacing="0.05" text-anchor="start" fill="#111" stroke="#111" stroke-width="0.2"><tspan fill="#5a5a5a" stroke="none">θ</tspan>=4</text>
<line x1="43.10" y1="50.50" x2="57.30" y2="50.50" stroke="#3fae72" stroke-width="0.85"/>
<text x="59.30" y="52.45" font-size="5.7" letter-spacing="0.05" text-anchor="start" fill="#111" stroke="#111" stroke-width="0.2"><tspan fill="#5a5a5a" stroke="none">θ</tspan>=5</text>
<rect x="289.0" y="4.7" width="173.0" height="128.3" fill="none" stroke="#555555" stroke-width="0.75"/>
<line x1="289.00" y1="133.00" x2="289.00" y2="135.60" stroke="#555555" stroke-width="0.7"/>
<line x1="289.00" y1="4.70" x2="289.00" y2="6.78" stroke="#555555" stroke-width="0.7"/>
<text x="289.00" y="141.60" font-size="5.05" text-anchor="middle" fill="#2a2a2a" stroke="#2a2a2a" stroke-width="0.16" >0</text>
<line x1="303.42" y1="133.00" x2="303.42" y2="134.30" stroke="#555555" stroke-width="0.7"/>
<line x1="303.42" y1="4.70" x2="303.42" y2="5.74" stroke="#555555" stroke-width="0.7"/>
<line x1="317.83" y1="133.00" x2="317.83" y2="135.60" stroke="#555555" stroke-width="0.7"/>
<line x1="317.83" y1="4.70" x2="317.83" y2="6.78" stroke="#555555" stroke-width="0.7"/>
<text x="317.83" y="141.60" font-size="5.05" text-anchor="middle" fill="#2a2a2a" stroke="#2a2a2a" stroke-width="0.16" >5000</text>
<line x1="332.25" y1="133.00" x2="332.25" y2="134.30" stroke="#555555" stroke-width="0.7"/>
<line x1="332.25" y1="4.70" x2="332.25" y2="5.74" stroke="#555555" stroke-width="0.7"/>
<line x1="346.67" y1="133.00" x2="346.67" y2="135.60" stroke="#555555" stroke-width="0.7"/>
<line x1="346.67" y1="4.70" x2="346.67" y2="6.78" stroke="#555555" stroke-width="0.7"/>
<text x="346.67" y="141.60" font-size="5.05" text-anchor="middle" fill="#2a2a2a" stroke="#2a2a2a" stroke-width="0.16" >10000</text>
<line x1="361.08" y1="133.00" x2="361.08" y2="134.30" stroke="#555555" stroke-width="0.7"/>
<line x1="361.08" y1="4.70" x2="361.08" y2="5.74" stroke="#555555" stroke-width="0.7"/>
<line x1="375.50" y1="133.00" x2="375.50" y2="135.60" stroke="#555555" stroke-width="0.7"/>
<line x1="375.50" y1="4.70" x2="375.50" y2="6.78" stroke="#555555" stroke-width="0.7"/>
<text x="375.50" y="141.60" font-size="5.05" text-anchor="middle" fill="#2a2a2a" stroke="#2a2a2a" stroke-width="0.16" >15000</text>
<line x1="389.92" y1="133.00" x2="389.92" y2="134.30" stroke="#555555" stroke-width="0.7"/>
<line x1="389.92" y1="4.70" x2="389.92" y2="5.74" stroke="#555555" stroke-width="0.7"/>
<line x1="404.33" y1="133.00" x2="404.33" y2="135.60" stroke="#555555" stroke-width="0.7"/>
<line x1="404.33" y1="4.70" x2="404.33" y2="6.78" stroke="#555555" stroke-width="0.7"/>
<text x="404.33" y="141.60" font-size="5.05" text-anchor="middle" fill="#2a2a2a" stroke="#2a2a2a" stroke-width="0.16" >20000</text>
<line x1="418.75" y1="133.00" x2="418.75" y2="134.30" stroke="#555555" stroke-width="0.7"/>
<line x1="418.75" y1="4.70" x2="418.75" y2="5.74" stroke="#555555" stroke-width="0.7"/>
<line x1="433.17" y1="133.00" x2="433.17" y2="135.60" stroke="#555555" stroke-width="0.7"/>
<line x1="433.17" y1="4.70" x2="433.17" y2="6.78" stroke="#555555" stroke-width="0.7"/>
<text x="433.17" y="141.60" font-size="5.05" text-anchor="middle" fill="#2a2a2a" stroke="#2a2a2a" stroke-width="0.16" >25000</text>
<line x1="447.58" y1="133.00" x2="447.58" y2="134.30" stroke="#555555" stroke-width="0.7"/>
<line x1="447.58" y1="4.70" x2="447.58" y2="5.74" stroke="#555555" stroke-width="0.7"/>
<line x1="462.00" y1="133.00" x2="462.00" y2="135.60" stroke="#555555" stroke-width="0.7"/>
<line x1="462.00" y1="4.70" x2="462.00" y2="6.78" stroke="#555555" stroke-width="0.7"/>
<text x="462.00" y="141.60" font-size="5.05" text-anchor="middle" fill="#2a2a2a" stroke="#2a2a2a" stroke-width="0.16" >30000</text>
<line x1="286.40" y1="133.00" x2="289.00" y2="133.00" stroke="#555555" stroke-width="0.7"/>
<line x1="459.90" y1="133.00" x2="462.00" y2="133.00" stroke="#555555" stroke-width="0.7"/>
<text x="284.80" y="134.40" font-size="5.05" text-anchor="end" fill="#2a2a2a" stroke="#2a2a2a" stroke-width="0.16" >0.01</text>
<line x1="287.70" y1="123.34" x2="289.00" y2="123.34" stroke="#555555" stroke-width="0.7"/>
<line x1="461.00" y1="123.34" x2="462.00" y2="123.34" stroke="#555555" stroke-width="0.7"/>
<line x1="287.70" y1="117.70" x2="289.00" y2="117.70" stroke="#555555" stroke-width="0.7"/>
<line x1="461.00" y1="117.70" x2="462.00" y2="117.70" stroke="#555555" stroke-width="0.7"/>
<line x1="287.70" y1="113.69" x2="289.00" y2="113.69" stroke="#555555" stroke-width="0.7"/>
<line x1="461.00" y1="113.69" x2="462.00" y2="113.69" stroke="#555555" stroke-width="0.7"/>
<line x1="287.70" y1="110.58" x2="289.00" y2="110.58" stroke="#555555" stroke-width="0.7"/>
<line x1="461.00" y1="110.58" x2="462.00" y2="110.58" stroke="#555555" stroke-width="0.7"/>
<line x1="287.70" y1="108.04" x2="289.00" y2="108.04" stroke="#555555" stroke-width="0.7"/>
<line x1="461.00" y1="108.04" x2="462.00" y2="108.04" stroke="#555555" stroke-width="0.7"/>
<line x1="287.70" y1="105.89" x2="289.00" y2="105.89" stroke="#555555" stroke-width="0.7"/>
<line x1="461.00" y1="105.89" x2="462.00" y2="105.89" stroke="#555555" stroke-width="0.7"/>
<line x1="287.70" y1="104.03" x2="289.00" y2="104.03" stroke="#555555" stroke-width="0.7"/>
<line x1="461.00" y1="104.03" x2="462.00" y2="104.03" stroke="#555555" stroke-width="0.7"/>
<line x1="287.70" y1="102.39" x2="289.00" y2="102.39" stroke="#555555" stroke-width="0.7"/>
<line x1="461.00" y1="102.39" x2="462.00" y2="102.39" stroke="#555555" stroke-width="0.7"/>
<line x1="286.40" y1="100.92" x2="289.00" y2="100.92" stroke="#555555" stroke-width="0.7"/>
<line x1="459.90" y1="100.92" x2="462.00" y2="100.92" stroke="#555555" stroke-width="0.7"/>
<text x="284.80" y="102.33" font-size="5.05" text-anchor="end" fill="#2a2a2a" stroke="#2a2a2a" stroke-width="0.16" >0.1</text>
<line x1="287.70" y1="91.27" x2="289.00" y2="91.27" stroke="#555555" stroke-width="0.7"/>
<line x1="461.00" y1="91.27" x2="462.00" y2="91.27" stroke="#555555" stroke-width="0.7"/>
<line x1="287.70" y1="85.62" x2="289.00" y2="85.62" stroke="#555555" stroke-width="0.7"/>
<line x1="461.00" y1="85.62" x2="462.00" y2="85.62" stroke="#555555" stroke-width="0.7"/>
<line x1="287.70" y1="81.61" x2="289.00" y2="81.61" stroke="#555555" stroke-width="0.7"/>
<line x1="461.00" y1="81.61" x2="462.00" y2="81.61" stroke="#555555" stroke-width="0.7"/>
<line x1="287.70" y1="78.51" x2="289.00" y2="78.51" stroke="#555555" stroke-width="0.7"/>
<line x1="461.00" y1="78.51" x2="462.00" y2="78.51" stroke="#555555" stroke-width="0.7"/>
<line x1="287.70" y1="75.97" x2="289.00" y2="75.97" stroke="#555555" stroke-width="0.7"/>
<line x1="461.00" y1="75.97" x2="462.00" y2="75.97" stroke="#555555" stroke-width="0.7"/>
<line x1="287.70" y1="73.82" x2="289.00" y2="73.82" stroke="#555555" stroke-width="0.7"/>
<line x1="461.00" y1="73.82" x2="462.00" y2="73.82" stroke="#555555" stroke-width="0.7"/>
<line x1="287.70" y1="71.96" x2="289.00" y2="71.96" stroke="#555555" stroke-width="0.7"/>
<line x1="461.00" y1="71.96" x2="462.00" y2="71.96" stroke="#555555" stroke-width="0.7"/>
<line x1="287.70" y1="70.32" x2="289.00" y2="70.32" stroke="#555555" stroke-width="0.7"/>
<line x1="461.00" y1="70.32" x2="462.00" y2="70.32" stroke="#555555" stroke-width="0.7"/>
<line x1="286.40" y1="68.85" x2="289.00" y2="68.85" stroke="#555555" stroke-width="0.7"/>
<line x1="459.90" y1="68.85" x2="462.00" y2="68.85" stroke="#555555" stroke-width="0.7"/>
<text x="284.80" y="70.25" font-size="5.05" text-anchor="end" fill="#2a2a2a" stroke="#2a2a2a" stroke-width="0.16" >1</text>
<line x1="287.70" y1="59.19" x2="289.00" y2="59.19" stroke="#555555" stroke-width="0.7"/>
<line x1="461.00" y1="59.19" x2="462.00" y2="59.19" stroke="#555555" stroke-width="0.7"/>
<line x1="287.70" y1="53.55" x2="289.00" y2="53.55" stroke="#555555" stroke-width="0.7"/>
<line x1="461.00" y1="53.55" x2="462.00" y2="53.55" stroke="#555555" stroke-width="0.7"/>
<line x1="287.70" y1="49.54" x2="289.00" y2="49.54" stroke="#555555" stroke-width="0.7"/>
<line x1="461.00" y1="49.54" x2="462.00" y2="49.54" stroke="#555555" stroke-width="0.7"/>
<line x1="287.70" y1="46.43" x2="289.00" y2="46.43" stroke="#555555" stroke-width="0.7"/>
<line x1="461.00" y1="46.43" x2="462.00" y2="46.43" stroke="#555555" stroke-width="0.7"/>
<line x1="287.70" y1="43.89" x2="289.00" y2="43.89" stroke="#555555" stroke-width="0.7"/>
<line x1="461.00" y1="43.89" x2="462.00" y2="43.89" stroke="#555555" stroke-width="0.7"/>
<line x1="287.70" y1="41.74" x2="289.00" y2="41.74" stroke="#555555" stroke-width="0.7"/>
<line x1="461.00" y1="41.74" x2="462.00" y2="41.74" stroke="#555555" stroke-width="0.7"/>
<line x1="287.70" y1="39.88" x2="289.00" y2="39.88" stroke="#555555" stroke-width="0.7"/>
<line x1="461.00" y1="39.88" x2="462.00" y2="39.88" stroke="#555555" stroke-width="0.7"/>
<line x1="287.70" y1="38.24" x2="289.00" y2="38.24" stroke="#555555" stroke-width="0.7"/>
<line x1="461.00" y1="38.24" x2="462.00" y2="38.24" stroke="#555555" stroke-width="0.7"/>
<line x1="286.40" y1="36.77" x2="289.00" y2="36.77" stroke="#555555" stroke-width="0.7"/>
<line x1="459.90" y1="36.77" x2="462.00" y2="36.77" stroke="#555555" stroke-width="0.7"/>
<text x="284.80" y="38.17" font-size="5.05" text-anchor="end" fill="#2a2a2a" stroke="#2a2a2a" stroke-width="0.16" >10</text>
<line x1="287.70" y1="27.12" x2="289.00" y2="27.12" stroke="#555555" stroke-width="0.7"/>
<line x1="461.00" y1="27.12" x2="462.00" y2="27.12" stroke="#555555" stroke-width="0.7"/>
<line x1="287.70" y1="21.47" x2="289.00" y2="21.47" stroke="#555555" stroke-width="0.7"/>
<line x1="461.00" y1="21.47" x2="462.00" y2="21.47" stroke="#555555" stroke-width="0.7"/>
<line x1="287.70" y1="17.46" x2="289.00" y2="17.46" stroke="#555555" stroke-width="0.7"/>
<line x1="461.00" y1="17.46" x2="462.00" y2="17.46" stroke="#555555" stroke-width="0.7"/>
<line x1="287.70" y1="14.36" x2="289.00" y2="14.36" stroke="#555555" stroke-width="0.7"/>
<line x1="461.00" y1="14.36" x2="462.00" y2="14.36" stroke="#555555" stroke-width="0.7"/>
<line x1="287.70" y1="11.82" x2="289.00" y2="11.82" stroke="#555555" stroke-width="0.7"/>
<line x1="461.00" y1="11.82" x2="462.00" y2="11.82" stroke="#555555" stroke-width="0.7"/>
<line x1="287.70" y1="9.67" x2="289.00" y2="9.67" stroke="#555555" stroke-width="0.7"/>
<line x1="461.00" y1="9.67" x2="462.00" y2="9.67" stroke="#555555" stroke-width="0.7"/>
<line x1="287.70" y1="7.81" x2="289.00" y2="7.81" stroke="#555555" stroke-width="0.7"/>
<line x1="461.00" y1="7.81" x2="462.00" y2="7.81" stroke="#555555" stroke-width="0.7"/>
<line x1="287.70" y1="6.17" x2="289.00" y2="6.17" stroke="#555555" stroke-width="0.7"/>
<line x1="461.00" y1="6.17" x2="462.00" y2="6.17" stroke="#555555" stroke-width="0.7"/>
<line x1="286.40" y1="4.70" x2="289.00" y2="4.70" stroke="#555555" stroke-width="0.7"/>
<line x1="459.90" y1="4.70" x2="462.00" y2="4.70" stroke="#555555" stroke-width="0.7"/>
<text x="284.80" y="6.10" font-size="5.05" text-anchor="end" fill="#2a2a2a" stroke="#2a2a2a" stroke-width="0.16" >100</text>
<text x="0.00" y="0.00" font-size="6.0" text-anchor="middle" fill="#2a2a2a" stroke="#2a2a2a" stroke-width="0.16" transform="translate(264.4,69.6) rotate(-90)">Total Thermal Conductivity(W/(m•K))</text>
<text x="376.00" y="151.80" font-size="6.55" text-anchor="middle" fill="#2a2a2a" stroke="#2a2a2a" stroke-width="0.16" >Electron Temperature(K)</text>
<text x="259.40" y="148.20" font-size="6.4" text-anchor="start" fill="#2a2a2a" stroke="#2a2a2a" stroke-width="0.16" >(b)</text>
<path d="M289.60 115.61 L290.10 113.21 L290.60 108.71 L291.10 103.11 L291.60 97.65 L292.10 92.87 L292.60 88.80 L293.10 85.14 L293.60 81.66 L294.10 78.26 L294.60 74.97 L295.10 71.99 L295.60 69.80 L296.10 68.89 L296.60 69.49 L297.10 71.52 L297.60 74.61 L298.10 78.10 L298.60 81.19 L299.10 83.32 L299.60 84.17 L300.10 83.69 L300.60 82.09 L301.10 79.78 L301.60 77.13 L302.10 74.38 L302.60 71.57 L303.10 68.70 L303.60 65.77 L304.10 62.79 L304.60 59.85 L305.10 57.07 L305.60 54.66 L306.10 52.77 L306.60 51.36 L307.10 50.26 L307.60 49.36 L308.10 48.71 L308.60 48.40 L309.10 48.48 L309.60 48.94 L310.10 49.74 L310.60 50.86 L311.10 52.16 L311.60 53.54 L312.10 54.95 L312.60 56.40 L313.10 57.86 L313.60 59.34 L314.10 60.80 L314.60 62.18 L315.10 63.38 L315.60 64.32 L316.10 64.97 L316.60 65.32 L317.10 65.36 L317.60 65.10 L318.10 64.54 L318.60 63.74 L319.10 62.80 L319.60 61.80 L320.10 60.79 L320.60 59.80 L321.10 58.83 L321.60 57.87 L322.10 56.91 L322.60 55.96 L323.10 55.02 L323.60 54.08 L324.10 53.16 L324.60 52.24 L325.10 51.37 L325.60 50.59 L326.10 49.93 L326.60 49.42 L327.10 49.03 L327.60 48.78 L328.10 48.65 L328.60 48.65 L329.10 48.78 L329.60 49.05 L330.10 49.46 L330.60 50.01 L331.10 50.68 L331.60 51.43 L332.10 52.21 L332.60 53.02 L333.10 53.85 L333.60 54.70 L334.10 55.58 L334.60 56.49 L335.10 57.44 L335.60 58.38 L336.10 59.27 L336.60 60.07 L337.10 60.71 L337.60 61.16 L338.10 61.42 L338.60 61.55 L339.10 61.58 L339.60 61.55 L340.10 61.48 L340.60 61.37 L341.10 61.21 L341.60 60.99 L342.10 60.72 L342.60 60.43 L343.10 60.11 L343.60 59.80 L344.10 59.48 L344.60 59.17 L345.10 58.85 L345.60 58.54 L346.10 58.23 L346.60 57.92 L347.10 57.62 L347.60 57.32 L348.10 57.01 L348.60 56.71 L349.10 56.41 L349.60 56.11 L350.10 55.81 L350.60 55.50 L351.10 55.20 L351.60 54.90 L352.10 54.60 L352.60 54.30 L353.10 54.00 L353.60 53.70 L354.10 53.40 L354.60 53.10 L355.10 52.80 L355.60 52.50 L356.10 52.20 L356.60 51.90 L357.10 51.60 L357.60 51.30 L358.10 51.01 L358.60 50.71 L359.10 50.41 L359.60 50.11 L360.10 49.82 L360.60 49.53 L361.10 49.24 L361.60 48.96 L362.10 48.68 L362.60 48.42 L363.10 48.15 L363.60 47.90 L364.10 47.65 L364.60 47.40 L365.10 47.16 L365.60 46.92 L366.10 46.68 L366.60 46.45 L367.10 46.21 L367.60 45.98 L368.10 45.76 L368.60 45.54 L369.10 45.34 L369.60 45.15 L370.10 44.98 L370.60 44.83 L371.10 44.70 L371.60 44.59 L372.10 44.50 L372.60 44.44 L373.10 44.41 L373.60 44.41 L374.10 44.43 L374.60 44.46 L375.10 44.50 L375.60 44.56 L376.10 44.62 L376.60 44.69 L377.10 44.77 L377.60 44.85 L378.10 44.94 L378.60 45.03 L379.10 45.13 L379.60 45.22 L380.10 45.32 L380.60 45.42 L381.10 45.52 L381.60 45.62 L382.10 45.73 L382.60 45.84 L383.10 45.95 L383.60 46.07 L384.10 46.19 L384.60 46.31 L385.10 46.44 L385.60 46.57 L386.10 46.71 L386.60 46.86 L387.10 47.01 L387.60 47.20 L388.10 47.42 L388.60 47.67 L389.10 47.96 L389.60 48.27 L390.10 48.59 L390.60 48.92 L391.10 49.26 L391.60 49.58 L392.10 49.89 L392.60 50.18 L393.10 50.44 L393.60 50.67 L394.10 50.86 L394.60 51.04 L395.10 51.20 L395.60 51.35 L396.10 51.50 L396.60 51.64 L397.10 51.76 L397.60 51.88 L398.10 51.98 L398.60 52.08 L399.10 52.16 L399.60 52.24 L400.10 52.30 L400.60 52.34 L401.10 52.38 L401.60 52.40 L402.10 52.41 L402.60 52.40 L403.10 52.39 L403.60 52.37 L404.10 52.34 L404.60 52.31 L405.10 52.28 L405.60 52.25 L406.10 52.22 L406.60 52.18 L407.10 52.13 L407.60 52.09 L408.10 52.04 L408.60 51.98 L409.10 51.92 L409.60 51.85 L410.10 51.78 L410.60 51.71 L411.10 51.62 L411.60 51.53 L412.10 51.44 L412.60 51.34 L413.10 51.25 L413.60 51.14 L414.10 51.04 L414.60 50.94 L415.10 50.84 L415.60 50.73 L416.10 50.63 L416.60 50.52 L417.10 50.42 L417.60 50.32 L418.10 50.21 L418.60 50.11 L419.10 50.02 L419.60 49.92 L420.10 49.83 L420.60 49.74 L421.10 49.65 L421.60 49.56 L422.10 49.47 L422.60 49.38 L423.10 49.30 L423.60 49.21 L424.10 49.12 L424.60 49.03 L425.10 48.95 L425.60 48.86 L426.10 48.77 L426.60 48.68 L427.10 48.60 L427.60 48.51 L428.10 48.43 L428.60 48.34 L429.10 48.25 L429.60 48.17 L430.10 48.08 L430.60 48.00 L431.10 47.92 L431.60 47.83 L432.10 47.75 L432.60 47.67 L433.10 47.58 L433.60 47.50 L434.10 47.42 L434.60 47.34 L435.10 47.26 L435.60 47.18 L436.10 47.10 L436.60 47.02 L437.10 46.95 L437.60 46.87 L438.10 46.79 L438.60 46.72 L439.10 46.64 L439.60 46.57 L440.10 46.49 L440.60 46.42 L441.10 46.34 L441.60 46.27 L442.10 46.20 L442.60 46.12 L443.10 46.05 L443.60 45.98 L444.10 45.91 L444.60 45.84 L445.10 45.77 L445.60 45.70 L446.10 45.63 L446.60 45.56 L447.10 45.49 L447.60 45.42 L448.10 45.35 L448.60 45.28 L449.10 45.22 L449.60 45.15 L450.10 45.08 L450.60 45.01 L451.10 44.95 L451.60 44.88 L452.10 44.82 L452.60 44.75 L453.10 44.69 L453.60 44.62 L454.10 44.56 L454.60 44.50 L455.10 44.43 L455.60 44.37 L456.10 44.31 L456.60 44.25 L457.10 44.18 L457.60 44.12 L458.10 44.06 L458.60 44.00 L459.10 43.94 L459.60 43.88 L460.10 43.82 L460.60 43.76 L461.10 43.71 L461.60 43.65 L462.00 43.62" fill="none" stroke="#3a3a3a" stroke-width="1.0" stroke-linejoin="round" stroke-linecap="round"/>
<path d="M292.30 116.24 L292.80 115.64 L293.30 114.49 L293.80 112.73 L294.30 110.47 L294.80 107.81 L295.30 104.82 L295.80 101.59 L296.30 98.24 L296.80 94.85 L297.30 91.43 L297.80 88.00 L298.30 84.57 L298.80 81.14 L299.30 77.76 L299.80 74.57 L300.30 71.97 L300.80 70.40 L301.30 69.97 L301.80 70.51 L302.30 71.83 L302.80 73.71 L303.30 75.73 L303.80 77.47 L304.30 78.86 L304.80 80.04 L305.30 81.07 L305.80 81.99 L306.30 82.83 L306.80 83.61 L307.30 84.32 L307.80 84.95 L308.30 85.44 L308.80 85.77 L309.30 85.88 L309.80 85.74 L310.30 85.35 L310.80 84.74 L311.30 83.97 L311.80 83.13 L312.30 82.26 L312.80 81.37 L313.30 80.47 L313.80 79.54 L314.30 78.58 L314.80 77.59 L315.30 76.58 L315.80 75.55 L316.30 74.52 L316.80 73.49 L317.30 72.46 L317.80 71.43 L318.30 70.41 L318.80 69.40 L319.30 68.41 L319.80 67.42 L320.30 66.45 L320.80 65.47 L321.30 64.49 L321.80 63.49 L322.30 62.44 L322.80 61.26 L323.30 59.95 L323.80 58.53 L324.30 57.07 L324.80 55.64 L325.30 54.32 L325.80 53.12 L326.30 52.04 L326.80 51.06 L327.30 50.17 L327.80 49.36 L328.30 48.66 L328.80 48.12 L329.30 47.79 L329.80 47.70 L330.30 47.81 L330.80 48.07 L331.30 48.47 L331.80 48.97 L332.30 49.58 L332.80 50.28 L333.30 51.06 L333.80 51.89 L334.30 52.75 L334.80 53.60 L335.30 54.41 L335.80 55.15 L336.30 55.81 L336.80 56.40 L337.30 56.93 L337.80 57.40 L338.30 57.81 L338.80 58.15 L339.30 58.43 L339.80 58.64 L340.30 58.79 L340.80 58.87 L341.30 58.88 L341.80 58.83 L342.30 58.72 L342.80 58.56 L343.30 58.35 L343.80 58.10 L344.30 57.80 L344.80 57.47 L345.30 57.09 L345.80 56.66 L346.30 56.15 L346.80 55.57 L347.30 54.92 L347.80 54.23 L348.30 53.51 L348.80 52.75 L349.30 51.97 L349.80 51.16 L350.30 50.33 L350.80 49.47 L351.30 48.60 L351.80 47.71 L352.30 46.81 L352.80 45.91 L353.30 45.01 L353.80 44.12 L354.30 43.24 L354.80 42.38 L355.30 41.54 L355.80 40.71 L356.30 39.90 L356.80 39.10 L357.30 38.32 L357.80 37.56 L358.30 36.82 L358.80 36.10 L359.30 35.42 L359.80 34.78 L360.30 34.19 L360.80 33.63 L361.30 33.12 L361.80 32.63 L362.30 32.19 L362.80 31.80 L363.30 31.46 L363.80 31.18 L364.30 30.99 L364.80 30.94 L365.30 31.03 L365.80 31.25 L366.30 31.60 L366.80 32.04 L367.30 32.57 L367.80 33.18 L368.30 33.83 L368.80 34.47 L369.30 35.05 L369.80 35.56 L370.30 36.01 L370.80 36.43 L371.30 36.84 L371.80 37.22 L372.30 37.57 L372.80 37.91 L373.30 38.21 L373.80 38.49 L374.30 38.74 L374.80 38.98 L375.30 39.22 L375.80 39.45 L376.30 39.68 L376.80 39.91 L377.30 40.13 L377.80 40.35 L378.30 40.56 L378.80 40.77 L379.30 40.98 L379.80 41.17 L380.30 41.36 L380.80 41.55 L381.30 41.73 L381.80 41.90 L382.30 42.08 L382.80 42.26 L383.30 42.44 L383.80 42.63 L384.30 42.82 L384.80 43.02 L385.30 43.24 L385.80 43.48 L386.30 43.74 L386.80 44.02 L387.30 44.32 L387.80 44.63 L388.30 44.96 L388.80 45.29 L389.30 45.63 L389.80 45.97 L390.30 46.31 L390.80 46.65 L391.30 46.98 L391.80 47.30 L392.30 47.61 L392.80 47.91 L393.30 48.18 L393.80 48.44 L394.30 48.69 L394.80 48.92 L395.30 49.15 L395.80 49.36 L396.30 49.57 L396.80 49.77 L397.30 49.96 L397.80 50.14 L398.30 50.31 L398.80 50.47 L399.30 50.61 L399.80 50.74 L400.30 50.85 L400.80 50.95 L401.30 51.04 L401.80 51.10 L402.30 51.15 L402.80 51.19 L403.30 51.21 L403.80 51.23 L404.30 51.24 L404.80 51.24 L405.30 51.24 L405.80 51.24 L406.30 51.23 L406.80 51.22 L407.30 51.20 L407.80 51.18 L408.30 51.15 L408.80 51.12 L409.30 51.08 L409.80 51.03 L410.30 50.98 L410.80 50.93 L411.30 50.86 L411.80 50.80 L412.30 50.73 L412.80 50.66 L413.30 50.59 L413.80 50.52 L414.30 50.45 L414.80 50.38 L415.30 50.31 L415.80 50.24 L416.30 50.16 L416.80 50.09 L417.30 50.02 L417.80 49.95 L418.30 49.88 L418.80 49.80 L419.30 49.73 L419.80 49.65 L420.30 49.58 L420.80 49.50 L421.30 49.42 L421.80 49.35 L422.30 49.27 L422.80 49.19 L423.30 49.11 L423.80 49.03 L424.30 48.95 L424.80 48.87 L425.30 48.80 L425.80 48.72 L426.30 48.64 L426.80 48.56 L427.30 48.48 L427.80 48.40 L428.30 48.32 L428.80 48.24 L429.30 48.16 L429.80 48.08 L430.30 48.00 L430.80 47.92 L431.30 47.84 L431.80 47.76 L432.30 47.68 L432.80 47.60 L433.30 47.53 L433.80 47.45 L434.30 47.37 L434.80 47.29 L435.30 47.22 L435.80 47.14 L436.30 47.06 L436.80 46.99 L437.30 46.91 L437.80 46.83 L438.30 46.76 L438.80 46.69 L439.30 46.61 L439.80 46.54 L440.30 46.46 L440.80 46.39 L441.30 46.32 L441.80 46.25 L442.30 46.18 L442.80 46.10 L443.30 46.03 L443.80 45.96 L444.30 45.89 L444.80 45.82 L445.30 45.75 L445.80 45.68 L446.30 45.62 L446.80 45.55 L447.30 45.48 L447.80 45.41 L448.30 45.34 L448.80 45.28 L449.30 45.21 L449.80 45.14 L450.30 45.08 L450.80 45.01 L451.30 44.95 L451.80 44.88 L452.30 44.82 L452.80 44.75 L453.30 44.69 L453.80 44.62 L454.30 44.56 L454.80 44.49 L455.30 44.43 L455.80 44.37 L456.30 44.30 L456.80 44.24 L457.30 44.18 L457.80 44.12 L458.30 44.05 L458.80 43.99 L459.30 43.93 L459.80 43.87 L460.30 43.81 L460.80 43.75 L461.30 43.69 L461.80 43.64" fill="none" stroke="#e8484c" stroke-width="1.0" stroke-linejoin="round" stroke-linecap="round"/>
<path d="M294.20 116.91 L294.70 115.87 L295.20 114.45 L295.70 112.92 L296.20 111.39 L296.70 109.86 L297.20 108.29 L297.70 106.67 L298.20 104.91 L298.70 102.93 L299.20 100.67 L299.70 98.17 L300.20 95.55 L300.70 92.90 L301.20 90.23 L301.70 87.57 L302.20 84.96 L302.70 82.47 L303.20 80.13 L303.70 77.94 L304.20 75.96 L304.70 74.29 L305.20 72.97 L305.70 72.02 L306.20 71.46 L306.70 71.39 L307.20 71.84 L307.70 72.79 L308.20 74.20 L308.70 75.95 L309.20 77.84 L309.70 79.66 L310.20 81.21 L310.70 82.45 L311.20 83.46 L311.70 84.33 L312.20 85.07 L312.70 85.71 L313.20 86.29 L313.70 86.82 L314.20 87.28 L314.70 87.64 L315.20 87.92 L315.70 88.14 L316.20 88.34 L316.70 88.52 L317.20 88.68 L317.70 88.82 L318.20 88.94 L318.70 89.04 L319.20 89.14 L319.70 89.24 L320.20 89.34 L320.70 89.44 L321.20 89.54 L321.70 89.64 L322.20 89.73 L322.70 89.82 L323.20 89.89 L323.70 89.93 L324.20 89.88 L324.70 89.63 L325.20 89.17 L325.70 88.54 L326.20 87.79 L326.70 86.99 L327.20 86.19 L327.70 85.40 L328.20 84.61 L328.70 83.78 L329.20 82.90 L329.70 81.95 L330.20 80.90 L330.70 79.76 L331.20 78.55 L331.70 77.30 L332.20 76.03 L332.70 74.74 L333.20 73.44 L333.70 72.12 L334.20 70.79 L334.70 69.46 L335.20 68.11 L335.70 66.75 L336.20 65.38 L336.70 64.00 L337.20 62.63 L337.70 61.26 L338.20 59.91 L338.70 58.58 L339.20 57.28 L339.70 56.03 L340.20 54.84 L340.70 53.69 L341.20 52.61 L341.70 51.57 L342.20 50.59 L342.70 49.66 L343.20 48.78 L343.70 47.95 L344.20 47.16 L344.70 46.42 L345.20 45.70 L345.70 45.02 L346.20 44.37 L346.70 43.73 L347.20 43.12 L347.70 42.53 L348.20 41.96 L348.70 41.42 L349.20 40.92 L349.70 40.47 L350.20 40.06 L350.70 39.70 L351.20 39.36 L351.70 39.06 L352.20 38.79 L352.70 38.55 L353.20 38.35 L353.70 38.18 L354.20 38.02 L354.70 37.88 L355.20 37.74 L355.70 37.61 L356.20 37.49 L356.70 37.37 L357.20 37.26 L357.70 37.17 L358.20 37.08 L358.70 37.00 L359.20 36.92 L359.70 36.86 L360.20 36.82 L360.70 36.78 L361.20 36.76 L361.70 36.75 L362.20 36.75 L362.70 36.76 L363.20 36.78 L363.70 36.80 L364.20 36.83 L364.70 36.85 L365.20 36.87 L365.70 36.88 L366.20 36.89 L366.70 36.89 L367.20 36.88 L367.70 36.85 L368.20 36.80 L368.70 36.74 L369.20 36.67 L369.70 36.58 L370.20 36.49 L370.70 36.38 L371.20 36.26 L371.70 36.12 L372.20 35.98 L372.70 35.83 L373.20 35.67 L373.70 35.50 L374.20 35.32 L374.70 35.13 L375.20 34.93 L375.70 34.71 L376.20 34.48 L376.70 34.23 L377.20 33.97 L377.70 33.67 L378.20 33.36 L378.70 33.04 L379.20 32.70 L379.70 32.35 L380.20 31.99 L380.70 31.63 L381.20 31.26 L381.70 30.90 L382.20 30.52 L382.70 30.13 L383.20 29.73 L383.70 29.33 L384.20 28.93 L384.70 28.54 L385.20 28.18 L385.70 27.87 L386.20 27.63 L386.70 27.47 L387.20 27.42 L387.70 27.50 L388.20 27.79 L388.70 28.30 L389.20 29.01 L389.70 29.87 L390.20 30.85 L390.70 31.92 L391.20 33.01 L391.70 34.07 L392.20 35.06 L392.70 35.96 L393.20 36.83 L393.70 37.66 L394.20 38.47 L394.70 39.26 L395.20 40.02 L395.70 40.74 L396.20 41.44 L396.70 42.10 L397.20 42.73 L397.70 43.32 L398.20 43.88 L398.70 44.42 L399.20 44.93 L399.70 45.41 L400.20 45.85 L400.70 46.26 L401.20 46.63 L401.70 46.96 L402.20 47.25 L402.70 47.50 L403.20 47.71 L403.70 47.90 L404.20 48.09 L404.70 48.26 L405.20 48.43 L405.70 48.59 L406.20 48.73 L406.70 48.87 L407.20 49.01 L407.70 49.13 L408.20 49.24 L408.70 49.34 L409.20 49.42 L409.70 49.50 L410.20 49.57 L410.70 49.62 L411.20 49.66 L411.70 49.69 L412.20 49.72 L412.70 49.74 L413.20 49.76 L413.70 49.78 L414.20 49.80 L414.70 49.82 L415.20 49.83 L415.70 49.85 L416.20 49.85 L416.70 49.86 L417.20 49.85 L417.70 49.85 L418.20 49.83 L418.70 49.80 L419.20 49.77 L419.70 49.73 L420.20 49.67 L420.70 49.61 L421.20 49.54 L421.70 49.47 L422.20 49.39 L422.70 49.31 L423.20 49.23 L423.70 49.15 L424.20 49.07 L424.70 48.99 L425.20 48.91 L425.70 48.82 L426.20 48.74 L426.70 48.65 L427.20 48.57 L427.70 48.48 L428.20 48.40 L428.70 48.31 L429.20 48.23 L429.70 48.14 L430.20 48.05 L430.70 47.97 L431.20 47.88 L431.70 47.80 L432.20 47.71 L432.70 47.63 L433.20 47.55 L433.70 47.46 L434.20 47.38 L434.70 47.30 L435.20 47.22 L435.70 47.14 L436.20 47.07 L436.70 46.99 L437.20 46.92 L437.70 46.84 L438.20 46.77 L438.70 46.70 L439.20 46.63 L439.70 46.56 L440.20 46.49 L440.70 46.42 L441.20 46.35 L441.70 46.29 L442.20 46.22 L442.70 46.15 L443.20 46.08 L443.70 46.01 L444.20 45.94 L444.70 45.87 L445.20 45.80 L445.70 45.73 L446.20 45.66 L446.70 45.59 L447.20 45.52 L447.70 45.46 L448.20 45.39 L448.70 45.32 L449.20 45.25 L449.70 45.18 L450.20 45.11 L450.70 45.05 L451.20 44.98 L451.70 44.91 L452.20 44.85 L452.70 44.78 L453.20 44.71 L453.70 44.65 L454.20 44.58 L454.70 44.51 L455.20 44.45 L455.70 44.38 L456.20 44.32 L456.70 44.26 L457.20 44.19 L457.70 44.13 L458.20 44.06 L458.70 44.00 L459.20 43.94 L459.70 43.88 L460.20 43.82 L460.70 43.76 L461.20 43.70 L461.70 43.65 L462.00 43.61" fill="none" stroke="#4646d8" stroke-width="1.0" stroke-linejoin="round" stroke-linecap="round"/>
<path d="M295.20 117.54 L295.70 116.72 L296.20 115.56 L296.70 114.26 L297.20 112.85 L297.70 111.35 L298.20 109.79 L298.70 108.20 L299.20 106.58 L299.70 104.95 L300.20 103.30 L300.70 101.63 L301.20 99.96 L301.70 98.29 L302.20 96.63 L302.70 94.99 L303.20 93.37 L303.70 91.78 L304.20 90.20 L304.70 88.64 L305.20 87.08 L305.70 85.52 L306.20 83.97 L306.70 82.43 L307.20 80.90 L307.70 79.40 L308.20 77.93 L308.70 76.57 L309.20 75.42 L309.70 74.48 L310.20 73.72 L310.70 73.14 L311.20 72.81 L311.70 72.78 L312.20 73.07 L312.70 73.70 L313.20 74.69 L313.70 76.02 L314.20 77.61 L314.70 79.25 L315.20 80.75 L315.70 81.99 L316.20 83.02 L316.70 83.92 L317.20 84.76 L317.70 85.55 L318.20 86.30 L318.70 87.05 L319.20 87.77 L319.70 88.41 L320.20 88.89 L320.70 89.19 L321.20 89.32 L321.70 89.39 L322.20 89.43 L322.70 89.46 L323.20 89.48 L323.70 89.50 L324.20 89.53 L324.70 89.55 L325.20 89.59 L325.70 89.63 L326.20 89.68 L326.70 89.74 L327.20 89.80 L327.70 89.86 L328.20 89.91 L328.70 89.95 L329.20 89.97 L329.70 89.94 L330.20 89.84 L330.70 89.65 L331.20 89.38 L331.70 89.05 L332.20 88.68 L332.70 88.27 L333.20 87.86 L333.70 87.45 L334.20 87.05 L334.70 86.66 L335.20 86.27 L335.70 85.87 L336.20 85.44 L336.70 84.99 L337.20 84.48 L337.70 83.93 L338.20 83.31 L338.70 82.61 L339.20 81.85 L339.70 81.04 L340.20 80.19 L340.70 79.31 L341.20 78.41 L341.70 77.49 L342.20 76.56 L342.70 75.64 L343.20 74.74 L343.70 73.86 L344.20 72.97 L344.70 72.06 L345.20 71.12 L345.70 70.12 L346.20 69.05 L346.70 67.91 L347.20 66.71 L347.70 65.47 L348.20 64.23 L348.70 62.98 L349.20 61.74 L349.70 60.49 L350.20 59.25 L350.70 58.00 L351.20 56.76 L351.70 55.52 L352.20 54.28 L352.70 53.05 L353.20 51.81 L353.70 50.57 L354.20 49.33 L354.70 48.10 L355.20 46.88 L355.70 45.69 L356.20 44.53 L356.70 43.40 L357.20 42.30 L357.70 41.22 L358.20 40.17 L358.70 39.13 L359.20 38.11 L359.70 37.13 L360.20 36.19 L360.70 35.29 L361.20 34.42 L361.70 33.58 L362.20 32.77 L362.70 31.98 L363.20 31.21 L363.70 30.48 L364.20 29.79 L364.70 29.14 L365.20 28.52 L365.70 27.92 L366.20 27.35 L366.70 26.80 L367.20 26.30 L367.70 25.86 L368.20 25.48 L368.70 25.18 L369.20 24.97 L369.70 24.85 L370.20 24.83 L370.70 24.91 L371.20 25.09 L371.70 25.38 L372.20 25.76 L372.70 26.22 L373.20 26.71 L373.70 27.22 L374.20 27.74 L374.70 28.26 L375.20 28.79 L375.70 29.33 L376.20 29.88 L376.70 30.44 L377.20 31.01 L377.70 31.58 L378.20 32.15 L378.70 32.73 L379.20 33.30 L379.70 33.86 L380.20 34.42 L380.70 34.97 L381.20 35.51 L381.70 36.03 L382.20 36.52 L382.70 36.98 L383.20 37.39 L383.70 37.76 L384.20 38.07 L384.70 38.32 L385.20 38.54 L385.70 38.72 L386.20 38.88 L386.70 39.01 L387.20 39.13 L387.70 39.24 L388.20 39.33 L388.70 39.41 L389.20 39.50 L389.70 39.58 L390.20 39.67 L390.70 39.76 L391.20 39.86 L391.70 39.95 L392.20 40.03 L392.70 40.09 L393.20 40.11 L393.70 40.09 L394.20 39.98 L394.70 39.79 L395.20 39.50 L395.70 39.14 L396.20 38.74 L396.70 38.32 L397.20 37.88 L397.70 37.43 L398.20 36.98 L398.70 36.53 L399.20 36.09 L399.70 35.67 L400.20 35.26 L400.70 34.87 L401.20 34.48 L401.70 34.11 L402.20 33.75 L402.70 33.41 L403.20 33.11 L403.70 32.86 L404.20 32.69 L404.70 32.58 L405.20 32.54 L405.70 32.54 L406.20 32.58 L406.70 32.67 L407.20 32.84 L407.70 33.13 L408.20 33.56 L408.70 34.12 L409.20 34.76 L409.70 35.45 L410.20 36.15 L410.70 36.88 L411.20 37.63 L411.70 38.40 L412.20 39.17 L412.70 39.95 L413.20 40.73 L413.70 41.50 L414.20 42.26 L414.70 42.99 L415.20 43.70 L415.70 44.38 L416.20 45.01 L416.70 45.59 L417.20 46.12 L417.70 46.60 L418.20 47.03 L418.70 47.41 L419.20 47.74 L419.70 48.02 L420.20 48.26 L420.70 48.45 L421.20 48.61 L421.70 48.74 L422.20 48.85 L422.70 48.95 L423.20 49.02 L423.70 49.08 L424.20 49.11 L424.70 49.12 L425.20 49.10 L425.70 49.06 L426.20 48.99 L426.70 48.91 L427.20 48.83 L427.70 48.74 L428.20 48.64 L428.70 48.55 L429.20 48.45 L429.70 48.36 L430.20 48.26 L430.70 48.16 L431.20 48.06 L431.70 47.96 L432.20 47.86 L432.70 47.76 L433.20 47.66 L433.70 47.56 L434.20 47.47 L434.70 47.37 L435.20 47.28 L435.70 47.19 L436.20 47.10 L436.70 47.01 L437.20 46.93 L437.70 46.85 L438.20 46.77 L438.70 46.70 L439.20 46.63 L439.70 46.56 L440.20 46.49 L440.70 46.42 L441.20 46.35 L441.70 46.27 L442.20 46.20 L442.70 46.13 L443.20 46.06 L443.70 45.99 L444.20 45.92 L444.70 45.85 L445.20 45.78 L445.70 45.70 L446.20 45.63 L446.70 45.56 L447.20 45.49 L447.70 45.42 L448.20 45.35 L448.70 45.28 L449.20 45.21 L449.70 45.14 L450.20 45.07 L450.70 45.00 L451.20 44.94 L451.70 44.87 L452.20 44.80 L452.70 44.73 L453.20 44.67 L453.70 44.60 L454.20 44.54 L454.70 44.47 L455.20 44.41 L455.70 44.34 L456.20 44.28 L456.70 44.22 L457.20 44.16 L457.70 44.09 L458.20 44.03 L458.70 43.97 L459.20 43.92 L459.70 43.86 L460.20 43.80 L460.70 43.74 L461.20 43.69 L461.70 43.64 L462.00 43.61" fill="none" stroke="#f646d6" stroke-width="1.0" stroke-linejoin="round" stroke-linecap="round"/>
<path d="M296.00 117.53 L296.50 116.70 L297.00 115.59 L297.50 114.42 L298.00 113.27 L298.50 112.13 L299.00 111.02 L299.50 109.94 L300.00 108.89 L300.50 107.86 L301.00 106.83 L301.50 105.79 L302.00 104.72 L302.50 103.60 L303.00 102.43 L303.50 101.24 L304.00 100.03 L304.50 98.83 L305.00 97.65 L305.50 96.52 L306.00 95.41 L306.50 94.33 L307.00 93.26 L307.50 92.20 L308.00 91.16 L308.50 90.12 L309.00 89.10 L309.50 88.09 L310.00 87.09 L310.50 86.09 L311.00 85.10 L311.50 84.12 L312.00 83.14 L312.50 82.16 L313.00 81.18 L313.50 80.22 L314.00 79.29 L314.50 78.39 L315.00 77.54 L315.50 76.77 L316.00 76.16 L316.50 75.74 L317.00 75.52 L317.50 75.51 L318.00 75.72 L318.50 76.15 L319.00 76.79 L319.50 77.63 L320.00 78.62 L320.50 79.69 L321.00 80.73 L321.50 81.67 L322.00 82.49 L322.50 83.24 L323.00 83.95 L323.50 84.62 L324.00 85.24 L324.50 85.79 L325.00 86.27 L325.50 86.71 L326.00 87.11 L326.50 87.48 L327.00 87.83 L327.50 88.15 L328.00 88.46 L328.50 88.73 L329.00 88.99 L329.50 89.23 L330.00 89.46 L330.50 89.67 L331.00 89.86 L331.50 90.04 L332.00 90.19 L332.50 90.32 L333.00 90.42 L333.50 90.49 L334.00 90.53 L334.50 90.54 L335.00 90.51 L335.50 90.45 L336.00 90.37 L336.50 90.26 L337.00 90.14 L337.50 89.99 L338.00 89.82 L338.50 89.64 L339.00 89.42 L339.50 89.17 L340.00 88.90 L340.50 88.59 L341.00 88.26 L341.50 87.88 L342.00 87.46 L342.50 87.01 L343.00 86.51 L343.50 85.97 L344.00 85.40 L344.50 84.79 L345.00 84.15 L345.50 83.49 L346.00 82.80 L346.50 82.09 L347.00 81.34 L347.50 80.57 L348.00 79.76 L348.50 78.91 L349.00 78.02 L349.50 77.08 L350.00 76.12 L350.50 75.12 L351.00 74.10 L351.50 73.06 L352.00 71.97 L352.50 70.85 L353.00 69.69 L353.50 68.49 L354.00 67.26 L354.50 66.02 L355.00 64.78 L355.50 63.54 L356.00 62.30 L356.50 61.05 L357.00 59.80 L357.50 58.55 L358.00 57.29 L358.50 56.04 L359.00 54.78 L359.50 53.53 L360.00 52.27 L360.50 51.01 L361.00 49.76 L361.50 48.50 L362.00 47.24 L362.50 45.99 L363.00 44.73 L363.50 43.48 L364.00 42.22 L364.50 40.96 L365.00 39.71 L365.50 38.46 L366.00 37.23 L366.50 36.03 L367.00 34.87 L367.50 33.75 L368.00 32.65 L368.50 31.58 L369.00 30.54 L369.50 29.52 L370.00 28.52 L370.50 27.57 L371.00 26.65 L371.50 25.76 L372.00 24.90 L372.50 24.06 L373.00 23.24 L373.50 22.43 L374.00 21.65 L374.50 20.90 L375.00 20.20 L375.50 19.53 L376.00 18.91 L376.50 18.33 L377.00 17.83 L377.50 17.41 L378.00 17.09 L378.50 16.88 L379.00 16.76 L379.50 16.75 L380.00 16.84 L380.50 17.02 L381.00 17.28 L381.50 17.60 L382.00 17.98 L382.50 18.40 L383.00 18.89 L383.50 19.46 L384.00 20.14 L384.50 20.95 L385.00 21.89 L385.50 22.92 L386.00 23.99 L386.50 25.01 L387.00 25.95 L387.50 26.82 L388.00 27.64 L388.50 28.44 L389.00 29.23 L389.50 30.03 L390.00 30.85 L390.50 31.69 L391.00 32.57 L391.50 33.49 L392.00 34.44 L392.50 35.41 L393.00 36.39 L393.50 37.36 L394.00 38.31 L394.50 39.24 L395.00 40.12 L395.50 40.95 L396.00 41.70 L396.50 42.38 L397.00 42.96 L397.50 43.48 L398.00 43.92 L398.50 44.31 L399.00 44.65 L399.50 44.95 L400.00 45.23 L400.50 45.49 L401.00 45.75 L401.50 45.99 L402.00 46.21 L402.50 46.42 L403.00 46.59 L403.50 46.74 L404.00 46.86 L404.50 46.94 L405.00 46.98 L405.50 46.99 L406.00 46.95 L406.50 46.88 L407.00 46.77 L407.50 46.61 L408.00 46.40 L408.50 46.14 L409.00 45.82 L409.50 45.43 L410.00 44.97 L410.50 44.46 L411.00 43.90 L411.50 43.32 L412.00 42.71 L412.50 42.09 L413.00 41.47 L413.50 40.85 L414.00 40.23 L414.50 39.63 L415.00 39.06 L415.50 38.50 L416.00 37.96 L416.50 37.43 L417.00 36.91 L417.50 36.39 L418.00 35.89 L418.50 35.39 L419.00 34.91 L419.50 34.44 L420.00 33.99 L420.50 33.57 L421.00 33.18 L421.50 32.84 L422.00 32.59 L422.50 32.40 L423.00 32.28 L423.50 32.23 L424.00 32.23 L424.50 32.29 L425.00 32.41 L425.50 32.59 L426.00 32.82 L426.50 33.09 L427.00 33.40 L427.50 33.78 L428.00 34.24 L428.50 34.76 L429.00 35.33 L429.50 35.93 L430.00 36.55 L430.50 37.18 L431.00 37.81 L431.50 38.43 L432.00 39.03 L432.50 39.61 L433.00 40.17 L433.50 40.72 L434.00 41.27 L434.50 41.80 L435.00 42.31 L435.50 42.79 L436.00 43.25 L436.50 43.67 L437.00 44.05 L437.50 44.38 L438.00 44.67 L438.50 44.91 L439.00 45.11 L439.50 45.27 L440.00 45.39 L440.50 45.48 L441.00 45.54 L441.50 45.58 L442.00 45.59 L442.50 45.59 L443.00 45.59 L443.50 45.58 L444.00 45.57 L444.50 45.55 L445.00 45.54 L445.50 45.52 L446.00 45.50 L446.50 45.48 L447.00 45.45 L447.50 45.42 L448.00 45.39 L448.50 45.35 L449.00 45.30 L449.50 45.25 L450.00 45.20 L450.50 45.14 L451.00 45.08 L451.50 45.02 L452.00 44.97 L452.50 44.91 L453.00 44.85 L453.50 44.79 L454.00 44.73 L454.50 44.67 L455.00 44.61 L455.50 44.55 L456.00 44.48 L456.50 44.42 L457.00 44.35 L457.50 44.29 L458.00 44.22 L458.50 44.15 L459.00 44.08 L459.50 44.00 L460.00 43.93 L460.50 43.85 L461.00 43.77 L461.50 43.69 L462.00 43.63" fill="none" stroke="#2aa05a" stroke-width="1.0" stroke-linejoin="round" stroke-linecap="round"/>
<rect x="424.0" y="65.9" width="28.40" height="40.60" fill="#fff" stroke="#c4c4c4" stroke-width="0.6"/>
<line x1="424.80" y1="70.30" x2="438.80" y2="70.30" stroke="#6e6e6e" stroke-width="0.85"/>
<text x="441.00" y="72.25" font-size="5.7" letter-spacing="0.05" text-anchor="start" fill="#111" stroke="#111" stroke-width="0.2"><tspan fill="#5a5a5a" stroke="none">θ</tspan>=1</text>
<line x1="424.80" y1="78.40" x2="438.80" y2="78.40" stroke="#e46a6a" stroke-width="0.85"/>
<text x="441.00" y="80.35" font-size="5.7" letter-spacing="0.05" text-anchor="start" fill="#111" stroke="#111" stroke-width="0.2"><tspan fill="#5a5a5a" stroke="none">θ</tspan>=2</text>
<line x1="424.80" y1="86.30" x2="438.80" y2="86.30" stroke="#6a6ae6" stroke-width="0.85"/>
<text x="441.00" y="88.25" font-size="5.7" letter-spacing="0.05" text-anchor="start" fill="#111" stroke="#111" stroke-width="0.2"><tspan fill="#5a5a5a" stroke="none">θ</tspan>=3</text>
<line x1="424.80" y1="94.20" x2="438.80" y2="94.20" stroke="#ee70dc" stroke-width="0.85"/>
<text x="441.00" y="96.15" font-size="5.7" letter-spacing="0.05" text-anchor="start" fill="#111" stroke="#111" stroke-width="0.2"><tspan fill="#5a5a5a" stroke="none">θ</tspan>=4</text>
<line x1="424.80" y1="102.10" x2="438.80" y2="102.10" stroke="#3fae72" stroke-width="0.85"/>
<text x="441.00" y="104.05" font-size="5.7" letter-spacing="0.05" text-anchor="start" fill="#111" stroke="#111" stroke-width="0.2"><tspan fill="#5a5a5a" stroke="none">θ</tspan>=5</text>
<rect x="159.4" y="184.6" width="172.99999999999997" height="128.29999999999998" fill="none" stroke="#555555" stroke-width="0.75"/>
<line x1="159.40" y1="312.90" x2="159.40" y2="315.50" stroke="#555555" stroke-width="0.7"/>
<line x1="159.40" y1="184.60" x2="159.40" y2="186.68" stroke="#555555" stroke-width="0.7"/>
<text x="159.40" y="321.50" font-size="5.05" text-anchor="middle" fill="#2a2a2a" stroke="#2a2a2a" stroke-width="0.16" >0</text>
<line x1="173.82" y1="312.90" x2="173.82" y2="314.20" stroke="#555555" stroke-width="0.7"/>
<line x1="173.82" y1="184.60" x2="173.82" y2="185.64" stroke="#555555" stroke-width="0.7"/>
<line x1="188.23" y1="312.90" x2="188.23" y2="315.50" stroke="#555555" stroke-width="0.7"/>
<line x1="188.23" y1="184.60" x2="188.23" y2="186.68" stroke="#555555" stroke-width="0.7"/>
<text x="188.23" y="321.50" font-size="5.05" text-anchor="middle" fill="#2a2a2a" stroke="#2a2a2a" stroke-width="0.16" >5000</text>
<line x1="202.65" y1="312.90" x2="202.65" y2="314.20" stroke="#555555" stroke-width="0.7"/>
<line x1="202.65" y1="184.60" x2="202.65" y2="185.64" stroke="#555555" stroke-width="0.7"/>
<line x1="217.07" y1="312.90" x2="217.07" y2="315.50" stroke="#555555" stroke-width="0.7"/>
<line x1="217.07" y1="184.60" x2="217.07" y2="186.68" stroke="#555555" stroke-width="0.7"/>
<text x="217.07" y="321.50" font-size="5.05" text-anchor="middle" fill="#2a2a2a" stroke="#2a2a2a" stroke-width="0.16" >10000</text>
<line x1="231.48" y1="312.90" x2="231.48" y2="314.20" stroke="#555555" stroke-width="0.7"/>
<line x1="231.48" y1="184.60" x2="231.48" y2="185.64" stroke="#555555" stroke-width="0.7"/>
<line x1="245.90" y1="312.90" x2="245.90" y2="315.50" stroke="#555555" stroke-width="0.7"/>
<line x1="245.90" y1="184.60" x2="245.90" y2="186.68" stroke="#555555" stroke-width="0.7"/>
<text x="245.90" y="321.50" font-size="5.05" text-anchor="middle" fill="#2a2a2a" stroke="#2a2a2a" stroke-width="0.16" >15000</text>
<line x1="260.32" y1="312.90" x2="260.32" y2="314.20" stroke="#555555" stroke-width="0.7"/>
<line x1="260.32" y1="184.60" x2="260.32" y2="185.64" stroke="#555555" stroke-width="0.7"/>
<line x1="274.73" y1="312.90" x2="274.73" y2="315.50" stroke="#555555" stroke-width="0.7"/>
<line x1="274.73" y1="184.60" x2="274.73" y2="186.68" stroke="#555555" stroke-width="0.7"/>
<text x="274.73" y="321.50" font-size="5.05" text-anchor="middle" fill="#2a2a2a" stroke="#2a2a2a" stroke-width="0.16" >20000</text>
<line x1="289.15" y1="312.90" x2="289.15" y2="314.20" stroke="#555555" stroke-width="0.7"/>
<line x1="289.15" y1="184.60" x2="289.15" y2="185.64" stroke="#555555" stroke-width="0.7"/>
<line x1="303.57" y1="312.90" x2="303.57" y2="315.50" stroke="#555555" stroke-width="0.7"/>
<line x1="303.57" y1="184.60" x2="303.57" y2="186.68" stroke="#555555" stroke-width="0.7"/>
<text x="303.57" y="321.50" font-size="5.05" text-anchor="middle" fill="#2a2a2a" stroke="#2a2a2a" stroke-width="0.16" >25000</text>
<line x1="317.98" y1="312.90" x2="317.98" y2="314.20" stroke="#555555" stroke-width="0.7"/>
<line x1="317.98" y1="184.60" x2="317.98" y2="185.64" stroke="#555555" stroke-width="0.7"/>
<line x1="332.40" y1="312.90" x2="332.40" y2="315.50" stroke="#555555" stroke-width="0.7"/>
<line x1="332.40" y1="184.60" x2="332.40" y2="186.68" stroke="#555555" stroke-width="0.7"/>
<text x="332.40" y="321.50" font-size="5.05" text-anchor="middle" fill="#2a2a2a" stroke="#2a2a2a" stroke-width="0.16" >30000</text>
<line x1="156.80" y1="312.90" x2="159.40" y2="312.90" stroke="#555555" stroke-width="0.7"/>
<line x1="330.32" y1="312.90" x2="332.40" y2="312.90" stroke="#555555" stroke-width="0.7"/>
<text x="155.20" y="314.30" font-size="5.05" text-anchor="end" fill="#2a2a2a" stroke="#2a2a2a" stroke-width="0.16" >0.00000</text>
<line x1="158.10" y1="296.86" x2="159.40" y2="296.86" stroke="#555555" stroke-width="0.7"/>
<line x1="331.36" y1="296.86" x2="332.40" y2="296.86" stroke="#555555" stroke-width="0.7"/>
<line x1="156.80" y1="280.82" x2="159.40" y2="280.82" stroke="#555555" stroke-width="0.7"/>
<line x1="330.32" y1="280.82" x2="332.40" y2="280.82" stroke="#555555" stroke-width="0.7"/>
<text x="155.20" y="282.22" font-size="5.05" text-anchor="end" fill="#2a2a2a" stroke="#2a2a2a" stroke-width="0.16" >0.00005</text>
<line x1="158.10" y1="264.79" x2="159.40" y2="264.79" stroke="#555555" stroke-width="0.7"/>
<line x1="331.36" y1="264.79" x2="332.40" y2="264.79" stroke="#555555" stroke-width="0.7"/>
<line x1="156.80" y1="248.75" x2="159.40" y2="248.75" stroke="#555555" stroke-width="0.7"/>
<line x1="330.32" y1="248.75" x2="332.40" y2="248.75" stroke="#555555" stroke-width="0.7"/>
<text x="155.20" y="250.15" font-size="5.05" text-anchor="end" fill="#2a2a2a" stroke="#2a2a2a" stroke-width="0.16" >0.00010</text>
<line x1="158.10" y1="232.71" x2="159.40" y2="232.71" stroke="#555555" stroke-width="0.7"/>
<line x1="331.36" y1="232.71" x2="332.40" y2="232.71" stroke="#555555" stroke-width="0.7"/>
<line x1="156.80" y1="216.67" x2="159.40" y2="216.67" stroke="#555555" stroke-width="0.7"/>
<line x1="330.32" y1="216.67" x2="332.40" y2="216.67" stroke="#555555" stroke-width="0.7"/>
<text x="155.20" y="218.07" font-size="5.05" text-anchor="end" fill="#2a2a2a" stroke="#2a2a2a" stroke-width="0.16" >0.00015</text>
<line x1="158.10" y1="200.64" x2="159.40" y2="200.64" stroke="#555555" stroke-width="0.7"/>
<line x1="331.36" y1="200.64" x2="332.40" y2="200.64" stroke="#555555" stroke-width="0.7"/>
<line x1="156.80" y1="184.60" x2="159.40" y2="184.60" stroke="#555555" stroke-width="0.7"/>
<line x1="330.32" y1="184.60" x2="332.40" y2="184.60" stroke="#555555" stroke-width="0.7"/>
<text x="155.20" y="186.00" font-size="5.05" text-anchor="end" fill="#2a2a2a" stroke="#2a2a2a" stroke-width="0.16" >0.00020</text>
<text x="0.00" y="0.00" font-size="6.07" text-anchor="middle" fill="#2a2a2a" stroke="#2a2a2a" stroke-width="0.16" transform="translate(126.8,249.8) rotate(-90)">Viscosity(kg/(m•s))</text>
<text x="246.00" y="331.40" font-size="6.55" text-anchor="middle" fill="#2a2a2a" stroke="#2a2a2a" stroke-width="0.16" >Electron Temperature(K)</text>
<text x="129.90" y="327.40" font-size="6.4" text-anchor="start" fill="#2a2a2a" stroke="#2a2a2a" stroke-width="0.16" >(c)</text>
<path d="M160.30 299.25 L160.80 297.98 L161.30 296.37 L161.80 294.59 L162.30 292.80 L162.80 291.07 L163.30 289.41 L163.80 287.81 L164.30 286.27 L164.80 284.79 L165.30 283.37 L165.80 281.99 L166.30 280.64 L166.80 279.33 L167.30 278.06 L167.80 276.82 L168.30 275.62 L168.80 274.47 L169.30 273.36 L169.80 272.30 L170.30 271.26 L170.80 270.24 L171.30 269.24 L171.80 268.25 L172.30 267.27 L172.80 266.31 L173.30 265.36 L173.80 264.42 L174.30 263.49 L174.80 262.57 L175.30 261.64 L175.80 260.71 L176.30 259.78 L176.80 258.83 L177.30 257.87 L177.80 256.88 L178.30 255.88 L178.80 254.86 L179.30 253.84 L179.80 252.83 L180.30 251.83 L180.80 250.86 L181.30 249.93 L181.80 249.03 L182.30 248.18 L182.80 247.38 L183.30 246.63 L183.80 245.93 L184.30 245.26 L184.80 244.62 L185.30 244.00 L185.80 243.39 L186.30 242.78 L186.80 242.18 L187.30 241.58 L187.80 240.98 L188.30 240.39 L188.80 239.79 L189.30 239.21 L189.80 238.62 L190.30 238.04 L190.80 237.46 L191.30 236.89 L191.80 236.32 L192.30 235.74 L192.80 235.17 L193.30 234.60 L193.80 234.02 L194.30 233.43 L194.80 232.84 L195.30 232.24 L195.80 231.61 L196.30 230.97 L196.80 230.30 L197.30 229.60 L197.80 228.88 L198.30 228.13 L198.80 227.37 L199.30 226.58 L199.80 225.77 L200.30 224.95 L200.80 224.12 L201.30 223.28 L201.80 222.43 L202.30 221.59 L202.80 220.75 L203.30 219.92 L203.80 219.11 L204.30 218.31 L204.80 217.52 L205.30 216.75 L205.80 216.00 L206.30 215.29 L206.80 214.62 L207.30 213.99 L207.80 213.41 L208.30 212.86 L208.80 212.34 L209.30 211.85 L209.80 211.39 L210.30 210.98 L210.80 210.61 L211.30 210.29 L211.80 210.02 L212.30 209.81 L212.80 209.63 L213.30 209.49 L213.80 209.39 L214.30 209.31 L214.80 209.27 L215.30 209.26 L215.80 209.29 L216.30 209.35 L216.80 209.46 L217.30 209.60 L217.80 209.78 L218.30 210.00 L218.80 210.25 L219.30 210.54 L219.80 210.87 L220.30 211.24 L220.80 211.64 L221.30 212.08 L221.80 212.55 L222.30 213.05 L222.80 213.58 L223.30 214.13 L223.80 214.70 L224.30 215.29 L224.80 215.89 L225.30 216.53 L225.80 217.20 L226.30 217.94 L226.80 218.75 L227.30 219.66 L227.80 220.68 L228.30 221.82 L228.80 223.07 L229.30 224.41 L229.80 225.80 L230.30 227.20 L230.80 228.56 L231.30 229.88 L231.80 231.14 L232.30 232.36 L232.80 233.54 L233.30 234.71 L233.80 235.88 L234.30 237.06 L234.80 238.26 L235.30 239.50 L235.80 240.76 L236.30 242.06 L236.80 243.39 L237.30 244.74 L237.80 246.13 L238.30 247.53 L238.80 248.95 L239.30 250.40 L239.80 251.87 L240.30 253.36 L240.80 254.89 L241.30 256.46 L241.80 258.06 L242.30 259.67 L242.80 261.29 L243.30 262.90 L243.80 264.48 L244.30 266.02 L244.80 267.51 L245.30 268.95 L245.80 270.34 L246.30 271.70 L246.80 273.02 L247.30 274.31 L247.80 275.58 L248.30 276.83 L248.80 278.06 L249.30 279.27 L249.80 280.47 L250.30 281.65 L250.80 282.80 L251.30 283.93 L251.80 285.05 L252.30 286.13 L252.80 287.20 L253.30 288.24 L253.80 289.26 L254.30 290.24 L254.80 291.20 L255.30 292.11 L255.80 292.99 L256.30 293.83 L256.80 294.62 L257.30 295.36 L257.80 296.06 L258.30 296.70 L258.80 297.29 L259.30 297.83 L259.80 298.32 L260.30 298.78 L260.80 299.20 L261.30 299.59 L261.80 299.96 L262.30 300.30 L262.80 300.61 L263.30 300.91 L263.80 301.17 L264.30 301.42 L264.80 301.64 L265.30 301.84 L265.80 302.02 L266.30 302.18 L266.80 302.34 L267.30 302.48 L267.80 302.63 L268.30 302.77 L268.80 302.92 L269.30 303.05 L269.80 303.19 L270.30 303.32 L270.80 303.45 L271.30 303.57 L271.80 303.68 L272.30 303.79 L272.80 303.88 L273.30 303.96 L273.80 304.04 L274.30 304.10 L274.80 304.15 L275.30 304.19 L275.80 304.22 L276.30 304.25 L276.80 304.27 L277.30 304.30 L277.80 304.32 L278.30 304.34 L278.80 304.36 L279.30 304.38 L279.80 304.40 L280.30 304.42 L280.80 304.45 L281.30 304.47 L281.80 304.49 L282.30 304.51 L282.80 304.53 L283.30 304.55 L283.80 304.57 L284.30 304.59 L284.80 304.61 L285.30 304.63 L285.80 304.65 L286.30 304.67 L286.80 304.69 L287.30 304.72 L287.80 304.74 L288.30 304.76 L288.80 304.79 L289.30 304.81 L289.80 304.84 L290.30 304.87 L290.80 304.90 L291.30 304.92 L291.80 304.95 L292.30 304.98 L292.80 305.01 L293.30 305.04 L293.80 305.06 L294.30 305.09 L294.80 305.12 L295.30 305.15 L295.80 305.18 L296.30 305.20 L296.80 305.23 L297.30 305.26 L297.80 305.29 L298.30 305.31 L298.80 305.34 L299.30 305.37 L299.80 305.40 L300.30 305.43 L300.80 305.45 L301.30 305.48 L301.80 305.51 L302.30 305.54 L302.80 305.57 L303.30 305.60 L303.80 305.62 L304.30 305.65 L304.80 305.68 L305.30 305.71 L305.80 305.74 L306.30 305.77 L306.80 305.80 L307.30 305.83 L307.80 305.86 L308.30 305.89 L308.80 305.92 L309.30 305.95 L309.80 305.98 L310.30 306.01 L310.80 306.04 L311.30 306.07 L311.80 306.10 L312.30 306.14 L312.80 306.17 L313.30 306.20 L313.80 306.23 L314.30 306.27 L314.80 306.30 L315.30 306.33 L315.80 306.37 L316.30 306.40 L316.80 306.43 L317.30 306.47 L317.80 306.50 L318.30 306.54 L318.80 306.57 L319.30 306.61 L319.80 306.64 L320.30 306.68 L320.80 306.72 L321.30 306.75 L321.80 306.79 L322.30 306.82 L322.80 306.86 L323.30 306.90 L323.80 306.94 L324.30 306.97 L324.80 307.01 L325.30 307.05 L325.80 307.09 L326.30 307.13 L326.80 307.16 L327.30 307.20 L327.80 307.24 L328.30 307.28 L328.80 307.32 L329.30 307.36 L329.80 307.40 L330.30 307.44 L330.80 307.48 L331.30 307.51 L331.80 307.55 L332.30 307.57" fill="none" stroke="#3a3a3a" stroke-width="1.0" stroke-linejoin="round" stroke-linecap="round"/>
<path d="M161.90 300.15 L162.40 299.61 L162.90 298.93 L163.40 298.18 L163.90 297.42 L164.40 296.67 L164.90 295.93 L165.40 295.18 L165.90 294.39 L166.40 293.56 L166.90 292.70 L167.40 291.82 L167.90 290.94 L168.40 290.06 L168.90 289.21 L169.40 288.38 L169.90 287.58 L170.40 286.80 L170.90 286.03 L171.40 285.29 L171.90 284.55 L172.40 283.83 L172.90 283.11 L173.40 282.41 L173.90 281.70 L174.40 281.01 L174.90 280.31 L175.40 279.63 L175.90 278.94 L176.40 278.26 L176.90 277.59 L177.40 276.93 L177.90 276.28 L178.40 275.64 L178.90 275.01 L179.40 274.39 L179.90 273.79 L180.40 273.20 L180.90 272.62 L181.40 272.06 L181.90 271.52 L182.40 270.98 L182.90 270.45 L183.40 269.93 L183.90 269.41 L184.40 268.90 L184.90 268.39 L185.40 267.88 L185.90 267.37 L186.40 266.87 L186.90 266.36 L187.40 265.86 L187.90 265.36 L188.40 264.87 L188.90 264.37 L189.40 263.88 L189.90 263.39 L190.40 262.89 L190.90 262.40 L191.40 261.91 L191.90 261.41 L192.40 260.92 L192.90 260.42 L193.40 259.92 L193.90 259.43 L194.40 258.93 L194.90 258.44 L195.40 257.94 L195.90 257.46 L196.40 256.97 L196.90 256.49 L197.40 256.01 L197.90 255.53 L198.40 255.07 L198.90 254.60 L199.40 254.15 L199.90 253.70 L200.40 253.26 L200.90 252.82 L201.40 252.40 L201.90 251.97 L202.40 251.55 L202.90 251.13 L203.40 250.72 L203.90 250.30 L204.40 249.88 L204.90 249.46 L205.40 249.04 L205.90 248.63 L206.40 248.21 L206.90 247.80 L207.40 247.39 L207.90 246.98 L208.40 246.59 L208.90 246.21 L209.40 245.85 L209.90 245.51 L210.40 245.20 L210.90 244.91 L211.40 244.64 L211.90 244.38 L212.40 244.14 L212.90 243.89 L213.40 243.65 L213.90 243.40 L214.40 243.16 L214.90 242.91 L215.40 242.68 L215.90 242.45 L216.40 242.23 L216.90 242.01 L217.40 241.82 L217.90 241.64 L218.40 241.47 L218.90 241.33 L219.40 241.21 L219.90 241.11 L220.40 241.01 L220.90 240.93 L221.40 240.86 L221.90 240.80 L222.40 240.75 L222.90 240.72 L223.40 240.72 L223.90 240.75 L224.40 240.82 L224.90 240.94 L225.40 241.11 L225.90 241.33 L226.40 241.61 L226.90 241.93 L227.40 242.30 L227.90 242.72 L228.40 243.19 L228.90 243.71 L229.40 244.30 L229.90 244.95 L230.40 245.66 L230.90 246.43 L231.40 247.27 L231.90 248.19 L232.40 249.19 L232.90 250.27 L233.40 251.43 L233.90 252.65 L234.40 253.91 L234.90 255.18 L235.40 256.47 L235.90 257.77 L236.40 259.07 L236.90 260.38 L237.40 261.69 L237.90 263.01 L238.40 264.34 L238.90 265.69 L239.40 267.04 L239.90 268.39 L240.40 269.74 L240.90 271.09 L241.40 272.42 L241.90 273.74 L242.40 275.02 L242.90 276.27 L243.40 277.48 L243.90 278.63 L244.40 279.73 L244.90 280.78 L245.40 281.79 L245.90 282.75 L246.40 283.69 L246.90 284.61 L247.40 285.51 L247.90 286.41 L248.40 287.30 L248.90 288.19 L249.40 289.06 L249.90 289.93 L250.40 290.78 L250.90 291.60 L251.40 292.39 L251.90 293.16 L252.40 293.90 L252.90 294.61 L253.40 295.31 L253.90 295.98 L254.40 296.65 L254.90 297.29 L255.40 297.92 L255.90 298.52 L256.40 299.09 L256.90 299.63 L257.40 300.15 L257.90 300.63 L258.40 301.08 L258.90 301.50 L259.40 301.89 L259.90 302.26 L260.40 302.60 L260.90 302.92 L261.40 303.21 L261.90 303.47 L262.40 303.72 L262.90 303.93 L263.40 304.13 L263.90 304.31 L264.40 304.48 L264.90 304.63 L265.40 304.78 L265.90 304.92 L266.40 305.06 L266.90 305.20 L267.40 305.32 L267.90 305.44 L268.40 305.56 L268.90 305.67 L269.40 305.77 L269.90 305.86 L270.40 305.94 L270.90 306.01 L271.40 306.07 L271.90 306.12 L272.40 306.15 L272.90 306.18 L273.40 306.21 L273.90 306.23 L274.40 306.24 L274.90 306.26 L275.40 306.27 L275.90 306.28 L276.40 306.30 L276.90 306.31 L277.40 306.32 L277.90 306.34 L278.40 306.35 L278.90 306.36 L279.40 306.38 L279.90 306.39 L280.40 306.40 L280.90 306.41 L281.40 306.43 L281.90 306.44 L282.40 306.45 L282.90 306.46 L283.40 306.48 L283.90 306.49 L284.40 306.50 L284.90 306.52 L285.40 306.53 L285.90 306.54 L286.40 306.56 L286.90 306.57 L287.40 306.59 L287.90 306.60 L288.40 306.62 L288.90 306.63 L289.40 306.65 L289.90 306.67 L290.40 306.68 L290.90 306.70 L291.40 306.72 L291.90 306.74 L292.40 306.75 L292.90 306.77 L293.40 306.79 L293.90 306.81 L294.40 306.82 L294.90 306.84 L295.40 306.86 L295.90 306.88 L296.40 306.90 L296.90 306.91 L297.40 306.93 L297.90 306.95 L298.40 306.97 L298.90 306.98 L299.40 307.00 L299.90 307.02 L300.40 307.04 L300.90 307.05 L301.40 307.07 L301.90 307.09 L302.40 307.10 L302.90 307.12 L303.40 307.14 L303.90 307.16 L304.40 307.17 L304.90 307.19 L305.40 307.21 L305.90 307.23 L306.40 307.24 L306.90 307.26 L307.40 307.28 L307.90 307.30 L308.40 307.31 L308.90 307.33 L309.40 307.35 L309.90 307.37 L310.40 307.38 L310.90 307.40 L311.40 307.42 L311.90 307.44 L312.40 307.45 L312.90 307.47 L313.40 307.49 L313.90 307.51 L314.40 307.53 L314.90 307.54 L315.40 307.56 L315.90 307.58 L316.40 307.60 L316.90 307.62 L317.40 307.63 L317.90 307.65 L318.40 307.67 L318.90 307.69 L319.40 307.71 L319.90 307.72 L320.40 307.74 L320.90 307.76 L321.40 307.78 L321.90 307.80 L322.40 307.82 L322.90 307.84 L323.40 307.85 L323.90 307.87 L324.40 307.89 L324.90 307.91 L325.40 307.93 L325.90 307.95 L326.40 307.97 L326.90 307.99 L327.40 308.01 L327.90 308.03 L328.40 308.05 L328.90 308.06 L329.40 308.08 L329.90 308.10 L330.40 308.12 L330.90 308.14 L331.40 308.16 L331.90 308.18 L332.30 308.19" fill="none" stroke="#e8484c" stroke-width="1.0" stroke-linejoin="round" stroke-linecap="round"/>
<path d="M164.60 301.33 L165.10 300.85 L165.60 300.25 L166.10 299.59 L166.60 298.93 L167.10 298.29 L167.60 297.68 L168.10 297.09 L168.60 296.51 L169.10 295.93 L169.60 295.36 L170.10 294.78 L170.60 294.21 L171.10 293.64 L171.60 293.07 L172.10 292.50 L172.60 291.95 L173.10 291.40 L173.60 290.86 L174.10 290.33 L174.60 289.81 L175.10 289.30 L175.60 288.80 L176.10 288.32 L176.60 287.84 L177.10 287.36 L177.60 286.90 L178.10 286.44 L178.60 285.99 L179.10 285.54 L179.60 285.10 L180.10 284.66 L180.60 284.22 L181.10 283.79 L181.60 283.36 L182.10 282.93 L182.60 282.50 L183.10 282.07 L183.60 281.64 L184.10 281.22 L184.60 280.79 L185.10 280.36 L185.60 279.94 L186.10 279.51 L186.60 279.09 L187.10 278.67 L187.60 278.25 L188.10 277.83 L188.60 277.42 L189.10 277.00 L189.60 276.59 L190.10 276.18 L190.60 275.77 L191.10 275.36 L191.60 274.95 L192.10 274.55 L192.60 274.15 L193.10 273.75 L193.60 273.35 L194.10 272.95 L194.60 272.55 L195.10 272.15 L195.60 271.75 L196.10 271.35 L196.60 270.95 L197.10 270.55 L197.60 270.15 L198.10 269.74 L198.60 269.34 L199.10 268.93 L199.60 268.52 L200.10 268.11 L200.60 267.70 L201.10 267.28 L201.60 266.87 L202.10 266.45 L202.60 266.03 L203.10 265.60 L203.60 265.18 L204.10 264.75 L204.60 264.33 L205.10 263.90 L205.60 263.48 L206.10 263.05 L206.60 262.63 L207.10 262.20 L207.60 261.78 L208.10 261.36 L208.60 260.94 L209.10 260.52 L209.60 260.11 L210.10 259.70 L210.60 259.29 L211.10 258.89 L211.60 258.49 L212.10 258.10 L212.60 257.71 L213.10 257.32 L213.60 256.94 L214.10 256.58 L214.60 256.22 L215.10 255.89 L215.60 255.56 L216.10 255.25 L216.60 254.95 L217.10 254.66 L217.60 254.38 L218.10 254.12 L218.60 253.86 L219.10 253.63 L219.60 253.41 L220.10 253.21 L220.60 253.02 L221.10 252.85 L221.60 252.70 L222.10 252.56 L222.60 252.44 L223.10 252.34 L223.60 252.25 L224.10 252.19 L224.60 252.15 L225.10 252.13 L225.60 252.13 L226.10 252.15 L226.60 252.18 L227.10 252.23 L227.60 252.28 L228.10 252.35 L228.60 252.43 L229.10 252.52 L229.60 252.62 L230.10 252.74 L230.60 252.86 L231.10 252.99 L231.60 253.13 L232.10 253.29 L232.60 253.46 L233.10 253.64 L233.60 253.84 L234.10 254.05 L234.60 254.28 L235.10 254.51 L235.60 254.76 L236.10 255.02 L236.60 255.29 L237.10 255.56 L237.60 255.85 L238.10 256.14 L238.60 256.43 L239.10 256.73 L239.60 257.05 L240.10 257.37 L240.60 257.72 L241.10 258.08 L241.60 258.46 L242.10 258.86 L242.60 259.28 L243.10 259.72 L243.60 260.16 L244.10 260.63 L244.60 261.10 L245.10 261.59 L245.60 262.09 L246.10 262.60 L246.60 263.13 L247.10 263.67 L247.60 264.24 L248.10 264.84 L248.60 265.48 L249.10 266.17 L249.60 266.92 L250.10 267.74 L250.60 268.63 L251.10 269.60 L251.60 270.64 L252.10 271.76 L252.60 272.92 L253.10 274.13 L253.60 275.37 L254.10 276.62 L254.60 277.90 L255.10 279.18 L255.60 280.47 L256.10 281.77 L256.60 283.08 L257.10 284.40 L257.60 285.75 L258.10 287.14 L258.60 288.58 L259.10 290.06 L259.60 291.58 L260.10 293.08 L260.60 294.53 L261.10 295.88 L261.60 297.13 L262.10 298.27 L262.60 299.30 L263.10 300.24 L263.60 301.09 L264.10 301.85 L264.60 302.52 L265.10 303.09 L265.60 303.58 L266.10 304.00 L266.60 304.38 L267.10 304.72 L267.60 305.03 L268.10 305.31 L268.60 305.56 L269.10 305.76 L269.60 305.92 L270.10 306.05 L270.60 306.13 L271.10 306.19 L271.60 306.22 L272.10 306.24 L272.60 306.26 L273.10 306.28 L273.60 306.30 L274.10 306.32 L274.60 306.33 L275.10 306.35 L275.60 306.37 L276.10 306.39 L276.60 306.40 L277.10 306.42 L277.60 306.44 L278.10 306.45 L278.60 306.47 L279.10 306.49 L279.60 306.50 L280.10 306.52 L280.60 306.54 L281.10 306.55 L281.60 306.57 L282.10 306.59 L282.60 306.60 L283.10 306.62 L283.60 306.64 L284.10 306.66 L284.60 306.67 L285.10 306.69 L285.60 306.71 L286.10 306.72 L286.60 306.74 L287.10 306.76 L287.60 306.78 L288.10 306.80 L288.60 306.81 L289.10 306.83 L289.60 306.85 L290.10 306.87 L290.60 306.89 L291.10 306.91 L291.60 306.93 L292.10 306.95 L292.60 306.97 L293.10 306.98 L293.60 307.00 L294.10 307.02 L294.60 307.04 L295.10 307.06 L295.60 307.08 L296.10 307.10 L296.60 307.12 L297.10 307.14 L297.60 307.16 L298.10 307.18 L298.60 307.20 L299.10 307.21 L299.60 307.23 L300.10 307.25 L300.60 307.27 L301.10 307.29 L301.60 307.31 L302.10 307.33 L302.60 307.35 L303.10 307.37 L303.60 307.39 L304.10 307.40 L304.60 307.42 L305.10 307.44 L305.60 307.46 L306.10 307.48 L306.60 307.50 L307.10 307.52 L307.60 307.54 L308.10 307.56 L308.60 307.58 L309.10 307.59 L309.60 307.61 L310.10 307.63 L310.60 307.65 L311.10 307.67 L311.60 307.69 L312.10 307.71 L312.60 307.73 L313.10 307.75 L313.60 307.77 L314.10 307.79 L314.60 307.80 L315.10 307.82 L315.60 307.84 L316.10 307.86 L316.60 307.88 L317.10 307.90 L317.60 307.92 L318.10 307.94 L318.60 307.96 L319.10 307.98 L319.60 308.00 L320.10 308.02 L320.60 308.04 L321.10 308.06 L321.60 308.08 L322.10 308.09 L322.60 308.11 L323.10 308.13 L323.60 308.15 L324.10 308.17 L324.60 308.19 L325.10 308.21 L325.60 308.23 L326.10 308.25 L326.60 308.27 L327.10 308.29 L327.60 308.31 L328.10 308.33 L328.60 308.35 L329.10 308.37 L329.60 308.39 L330.10 308.41 L330.60 308.43 L331.10 308.45 L331.60 308.47 L332.10 308.48" fill="none" stroke="#4646d8" stroke-width="1.0" stroke-linejoin="round" stroke-linecap="round"/>
<path d="M166.40 301.82 L166.90 301.42 L167.40 300.92 L167.90 300.36 L168.40 299.79 L168.90 299.26 L169.40 298.76 L169.90 298.30 L170.40 297.85 L170.90 297.42 L171.40 296.99 L171.90 296.56 L172.40 296.13 L172.90 295.69 L173.40 295.24 L173.90 294.79 L174.40 294.33 L174.90 293.87 L175.40 293.40 L175.90 292.93 L176.40 292.46 L176.90 292.00 L177.40 291.53 L177.90 291.07 L178.40 290.61 L178.90 290.15 L179.40 289.71 L179.90 289.27 L180.40 288.84 L180.90 288.42 L181.40 288.01 L181.90 287.62 L182.40 287.23 L182.90 286.85 L183.40 286.48 L183.90 286.12 L184.40 285.76 L184.90 285.41 L185.40 285.06 L185.90 284.71 L186.40 284.36 L186.90 284.02 L187.40 283.68 L187.90 283.33 L188.40 282.99 L188.90 282.64 L189.40 282.29 L189.90 281.94 L190.40 281.58 L190.90 281.22 L191.40 280.86 L191.90 280.50 L192.40 280.14 L192.90 279.77 L193.40 279.41 L193.90 279.04 L194.40 278.68 L194.90 278.31 L195.40 277.95 L195.90 277.58 L196.40 277.22 L196.90 276.85 L197.40 276.49 L197.90 276.12 L198.40 275.76 L198.90 275.40 L199.40 275.04 L199.90 274.67 L200.40 274.32 L200.90 273.96 L201.40 273.60 L201.90 273.25 L202.40 272.90 L202.90 272.55 L203.40 272.20 L203.90 271.86 L204.40 271.51 L204.90 271.17 L205.40 270.83 L205.90 270.49 L206.40 270.15 L206.90 269.81 L207.40 269.48 L207.90 269.14 L208.40 268.80 L208.90 268.47 L209.40 268.14 L209.90 267.82 L210.40 267.49 L210.90 267.18 L211.40 266.87 L211.90 266.57 L212.40 266.27 L212.90 265.97 L213.40 265.69 L213.90 265.40 L214.40 265.12 L214.90 264.85 L215.40 264.58 L215.90 264.32 L216.40 264.06 L216.90 263.80 L217.40 263.55 L217.90 263.31 L218.40 263.07 L218.90 262.84 L219.40 262.61 L219.90 262.39 L220.40 262.18 L220.90 261.98 L221.40 261.78 L221.90 261.59 L222.40 261.40 L222.90 261.22 L223.40 261.05 L223.90 260.89 L224.40 260.73 L224.90 260.57 L225.40 260.42 L225.90 260.28 L226.40 260.14 L226.90 260.01 L227.40 259.89 L227.90 259.77 L228.40 259.66 L228.90 259.56 L229.40 259.47 L229.90 259.38 L230.40 259.30 L230.90 259.23 L231.40 259.16 L231.90 259.11 L232.40 259.07 L232.90 259.04 L233.40 259.03 L233.90 259.04 L234.40 259.08 L234.90 259.15 L235.40 259.25 L235.90 259.40 L236.40 259.58 L236.90 259.81 L237.40 260.06 L237.90 260.35 L238.40 260.65 L238.90 260.98 L239.40 261.32 L239.90 261.67 L240.40 262.04 L240.90 262.41 L241.40 262.79 L241.90 263.17 L242.40 263.56 L242.90 263.95 L243.40 264.34 L243.90 264.73 L244.40 265.11 L244.90 265.48 L245.40 265.85 L245.90 266.20 L246.40 266.54 L246.90 266.87 L247.40 267.19 L247.90 267.49 L248.40 267.78 L248.90 268.06 L249.40 268.32 L249.90 268.57 L250.40 268.81 L250.90 269.04 L251.40 269.25 L251.90 269.45 L252.40 269.64 L252.90 269.82 L253.40 269.98 L253.90 270.14 L254.40 270.27 L254.90 270.40 L255.40 270.51 L255.90 270.62 L256.40 270.73 L256.90 270.84 L257.40 270.95 L257.90 271.06 L258.40 271.19 L258.90 271.33 L259.40 271.49 L259.90 271.65 L260.40 271.83 L260.90 272.02 L261.40 272.23 L261.90 272.47 L262.40 272.75 L262.90 273.08 L263.40 273.46 L263.90 273.91 L264.40 274.41 L264.90 274.99 L265.40 275.64 L265.90 276.38 L266.40 277.19 L266.90 278.07 L267.40 279.02 L267.90 280.05 L268.40 281.14 L268.90 282.29 L269.40 283.49 L269.90 284.74 L270.40 286.01 L270.90 287.32 L271.40 288.65 L271.90 290.00 L272.40 291.34 L272.90 292.64 L273.40 293.90 L273.90 295.09 L274.40 296.23 L274.90 297.29 L275.40 298.30 L275.90 299.24 L276.40 300.14 L276.90 300.98 L277.40 301.79 L277.90 302.55 L278.40 303.26 L278.90 303.90 L279.40 304.46 L279.90 304.94 L280.40 305.34 L280.90 305.67 L281.40 305.94 L281.90 306.17 L282.40 306.35 L282.90 306.48 L283.40 306.58 L283.90 306.64 L284.40 306.68 L284.90 306.71 L285.40 306.72 L285.90 306.73 L286.40 306.74 L286.90 306.74 L287.40 306.75 L287.90 306.75 L288.40 306.76 L288.90 306.76 L289.40 306.76 L289.90 306.76 L290.40 306.76 L290.90 306.76 L291.40 306.76 L291.90 306.76 L292.40 306.76 L292.90 306.76 L293.40 306.76 L293.90 306.76 L294.40 306.77 L294.90 306.77 L295.40 306.77 L295.90 306.77 L296.40 306.78 L296.90 306.78 L297.40 306.79 L297.90 306.79 L298.40 306.80 L298.90 306.81 L299.40 306.82 L299.90 306.83 L300.40 306.84 L300.90 306.86 L301.40 306.88 L301.90 306.89 L302.40 306.91 L302.90 306.93 L303.40 306.95 L303.90 306.97 L304.40 306.99 L304.90 307.01 L305.40 307.03 L305.90 307.05 L306.40 307.07 L306.90 307.09 L307.40 307.11 L307.90 307.13 L308.40 307.15 L308.90 307.16 L309.40 307.18 L309.90 307.20 L310.40 307.22 L310.90 307.24 L311.40 307.26 L311.90 307.28 L312.40 307.30 L312.90 307.31 L313.40 307.33 L313.90 307.35 L314.40 307.37 L314.90 307.39 L315.40 307.41 L315.90 307.43 L316.40 307.45 L316.90 307.47 L317.40 307.49 L317.90 307.51 L318.40 307.53 L318.90 307.55 L319.40 307.57 L319.90 307.59 L320.40 307.61 L320.90 307.63 L321.40 307.65 L321.90 307.68 L322.40 307.70 L322.90 307.72 L323.40 307.74 L323.90 307.77 L324.40 307.79 L324.90 307.81 L325.40 307.84 L325.90 307.86 L326.40 307.88 L326.90 307.91 L327.40 307.93 L327.90 307.96 L328.40 307.98 L328.90 308.01 L329.40 308.04 L329.90 308.06 L330.40 308.09 L330.90 308.12 L331.40 308.14 L331.90 308.17 L332.30 308.18" fill="none" stroke="#f646d6" stroke-width="1.0" stroke-linejoin="round" stroke-linecap="round"/>
<path d="M168.20 302.39 L168.70 302.06 L169.20 301.64 L169.70 301.19 L170.20 300.75 L170.70 300.34 L171.20 299.95 L171.70 299.58 L172.20 299.21 L172.70 298.83 L173.20 298.45 L173.70 298.07 L174.20 297.67 L174.70 297.27 L175.20 296.87 L175.70 296.46 L176.20 296.05 L176.70 295.64 L177.20 295.23 L177.70 294.82 L178.20 294.42 L178.70 294.02 L179.20 293.62 L179.70 293.23 L180.20 292.85 L180.70 292.48 L181.20 292.11 L181.70 291.76 L182.20 291.42 L182.70 291.10 L183.20 290.79 L183.70 290.49 L184.20 290.21 L184.70 289.94 L185.20 289.67 L185.70 289.41 L186.20 289.16 L186.70 288.91 L187.20 288.65 L187.70 288.40 L188.20 288.14 L188.70 287.88 L189.20 287.61 L189.70 287.33 L190.20 287.05 L190.70 286.75 L191.20 286.44 L191.70 286.13 L192.20 285.82 L192.70 285.51 L193.20 285.19 L193.70 284.87 L194.20 284.56 L194.70 284.24 L195.20 283.92 L195.70 283.61 L196.20 283.29 L196.70 282.97 L197.20 282.66 L197.70 282.34 L198.20 282.03 L198.70 281.71 L199.20 281.40 L199.70 281.09 L200.20 280.78 L200.70 280.47 L201.20 280.16 L201.70 279.85 L202.20 279.54 L202.70 279.23 L203.20 278.93 L203.70 278.62 L204.20 278.31 L204.70 278.01 L205.20 277.70 L205.70 277.40 L206.20 277.09 L206.70 276.79 L207.20 276.49 L207.70 276.19 L208.20 275.88 L208.70 275.58 L209.20 275.28 L209.70 274.99 L210.20 274.70 L210.70 274.41 L211.20 274.12 L211.70 273.84 L212.20 273.56 L212.70 273.29 L213.20 273.01 L213.70 272.74 L214.20 272.48 L214.70 272.22 L215.20 271.96 L215.70 271.70 L216.20 271.45 L216.70 271.20 L217.20 270.95 L217.70 270.70 L218.20 270.46 L218.70 270.23 L219.20 269.99 L219.70 269.77 L220.20 269.54 L220.70 269.32 L221.20 269.11 L221.70 268.90 L222.20 268.70 L222.70 268.49 L223.20 268.29 L223.70 268.10 L224.20 267.91 L224.70 267.72 L225.20 267.53 L225.70 267.34 L226.20 267.16 L226.70 266.98 L227.20 266.80 L227.70 266.62 L228.20 266.44 L228.70 266.27 L229.20 266.10 L229.70 265.94 L230.20 265.78 L230.70 265.62 L231.20 265.46 L231.70 265.31 L232.20 265.16 L232.70 265.02 L233.20 264.88 L233.70 264.74 L234.20 264.61 L234.70 264.48 L235.20 264.36 L235.70 264.24 L236.20 264.14 L236.70 264.05 L237.20 263.97 L237.70 263.90 L238.20 263.85 L238.70 263.80 L239.20 263.78 L239.70 263.77 L240.20 263.80 L240.70 263.85 L241.20 263.95 L241.70 264.08 L242.20 264.25 L242.70 264.45 L243.20 264.67 L243.70 264.92 L244.20 265.17 L244.70 265.45 L245.20 265.75 L245.70 266.08 L246.20 266.45 L246.70 266.85 L247.20 267.29 L247.70 267.76 L248.20 268.24 L248.70 268.73 L249.20 269.22 L249.70 269.69 L250.20 270.16 L250.70 270.62 L251.20 271.07 L251.70 271.51 L252.20 271.94 L252.70 272.36 L253.20 272.77 L253.70 273.17 L254.20 273.55 L254.70 273.91 L255.20 274.24 L255.70 274.55 L256.20 274.84 L256.70 275.10 L257.20 275.33 L257.70 275.55 L258.20 275.74 L258.70 275.91 L259.20 276.06 L259.70 276.19 L260.20 276.29 L260.70 276.37 L261.20 276.43 L261.70 276.46 L262.20 276.48 L262.70 276.48 L263.20 276.48 L263.70 276.46 L264.20 276.45 L264.70 276.43 L265.20 276.41 L265.70 276.38 L266.20 276.36 L266.70 276.34 L267.20 276.31 L267.70 276.29 L268.20 276.27 L268.70 276.25 L269.20 276.23 L269.70 276.22 L270.20 276.21 L270.70 276.21 L271.20 276.20 L271.70 276.21 L272.20 276.21 L272.70 276.22 L273.20 276.23 L273.70 276.25 L274.20 276.27 L274.70 276.31 L275.20 276.36 L275.70 276.44 L276.20 276.55 L276.70 276.68 L277.20 276.84 L277.70 277.02 L278.20 277.23 L278.70 277.47 L279.20 277.74 L279.70 278.05 L280.20 278.40 L280.70 278.79 L281.20 279.24 L281.70 279.75 L282.20 280.32 L282.70 280.94 L283.20 281.63 L283.70 282.38 L284.20 283.18 L284.70 284.05 L285.20 284.98 L285.70 285.97 L286.20 287.01 L286.70 288.10 L287.20 289.22 L287.70 290.34 L288.20 291.46 L288.70 292.57 L289.20 293.66 L289.70 294.74 L290.20 295.80 L290.70 296.83 L291.20 297.84 L291.70 298.80 L292.20 299.72 L292.70 300.59 L293.20 301.40 L293.70 302.14 L294.20 302.83 L294.70 303.45 L295.20 304.02 L295.70 304.54 L296.20 304.99 L296.70 305.38 L297.20 305.69 L297.70 305.93 L298.20 306.12 L298.70 306.27 L299.20 306.39 L299.70 306.50 L300.20 306.60 L300.70 306.69 L301.20 306.77 L301.70 306.84 L302.20 306.90 L302.70 306.96 L303.20 307.00 L303.70 307.05 L304.20 307.08 L304.70 307.11 L305.20 307.14 L305.70 307.17 L306.20 307.20 L306.70 307.23 L307.20 307.26 L307.70 307.29 L308.20 307.31 L308.70 307.34 L309.20 307.37 L309.70 307.40 L310.20 307.43 L310.70 307.46 L311.20 307.49 L311.70 307.52 L312.20 307.54 L312.70 307.57 L313.20 307.60 L313.70 307.63 L314.20 307.65 L314.70 307.68 L315.20 307.70 L315.70 307.73 L316.20 307.75 L316.70 307.78 L317.20 307.80 L317.70 307.82 L318.20 307.85 L318.70 307.87 L319.20 307.89 L319.70 307.91 L320.20 307.93 L320.70 307.94 L321.20 307.96 L321.70 307.98 L322.20 307.99 L322.70 308.00 L323.20 308.02 L323.70 308.03 L324.20 308.04 L324.70 308.05 L325.20 308.05 L325.70 308.06 L326.20 308.07 L326.70 308.07 L327.20 308.07 L327.70 308.07 L328.20 308.07 L328.70 308.07 L329.20 308.06 L329.70 308.06 L330.20 308.05 L330.70 308.04 L331.20 308.03 L331.70 308.02 L332.20 308.01" fill="none" stroke="#2aa05a" stroke-width="1.0" stroke-linejoin="round" stroke-linecap="round"/>
<rect x="291.2" y="192.4" width="27.50" height="40.30" fill="#fff" stroke="#c4c4c4" stroke-width="0.6"/>
<line x1="291.90" y1="197.30" x2="306.00" y2="197.30" stroke="#6e6e6e" stroke-width="0.85"/>
<text x="308.00" y="199.25" font-size="5.7" letter-spacing="0.05" text-anchor="start" fill="#111" stroke="#111" stroke-width="0.2"><tspan fill="#5a5a5a" stroke="none">θ</tspan>=1</text>
<line x1="291.90" y1="205.20" x2="306.00" y2="205.20" stroke="#e46a6a" stroke-width="0.85"/>
<text x="308.00" y="207.15" font-size="5.7" letter-spacing="0.05" text-anchor="start" fill="#111" stroke="#111" stroke-width="0.2"><tspan fill="#5a5a5a" stroke="none">θ</tspan>=2</text>
<line x1="291.90" y1="213.00" x2="306.00" y2="213.00" stroke="#6a6ae6" stroke-width="0.85"/>
<text x="308.00" y="214.95" font-size="5.7" letter-spacing="0.05" text-anchor="start" fill="#111" stroke="#111" stroke-width="0.2"><tspan fill="#5a5a5a" stroke="none">θ</tspan>=3</text>
<line x1="291.90" y1="220.90" x2="306.00" y2="220.90" stroke="#ee70dc" stroke-width="0.85"/>
<text x="308.00" y="222.85" font-size="5.7" letter-spacing="0.05" text-anchor="start" fill="#111" stroke="#111" stroke-width="0.2"><tspan fill="#5a5a5a" stroke="none">θ</tspan>=4</text>
<line x1="291.90" y1="228.90" x2="306.00" y2="228.90" stroke="#3fae72" stroke-width="0.85"/>
<text x="308.00" y="230.85" font-size="5.7" letter-spacing="0.05" text-anchor="start" fill="#111" stroke="#111" stroke-width="0.2"><tspan fill="#5a5a5a" stroke="none">θ</tspan>=5</text>
</g>
</svg>
</body></html>
